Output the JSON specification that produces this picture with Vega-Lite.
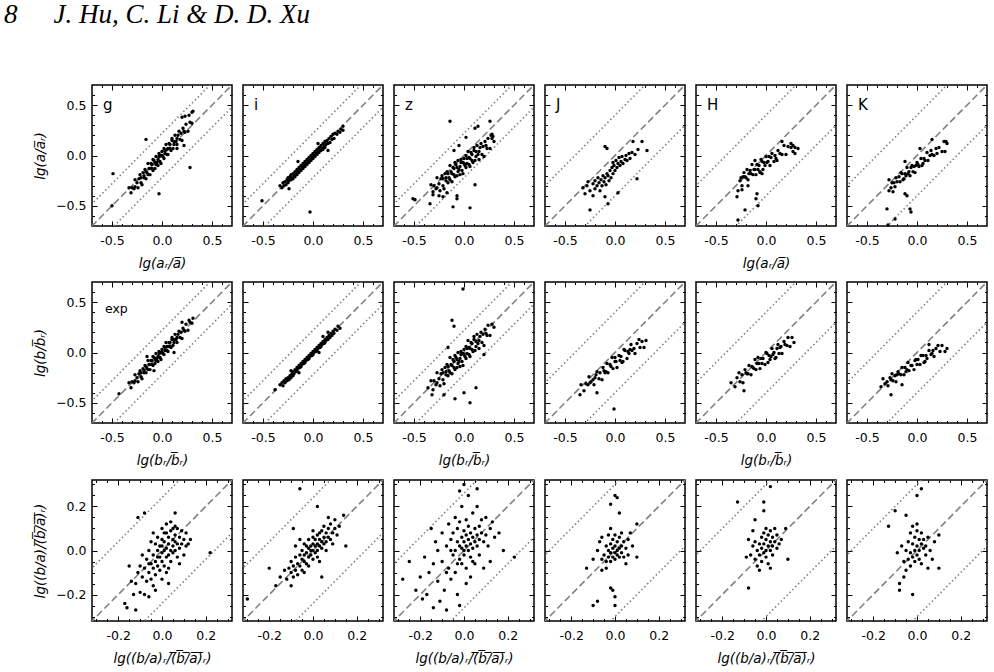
{
"$schema":"https://vega.github.io/schema/vega-lite/v6.json",
"padding":{"left":3,"top":0,"right":5,"bottom":0},
"background":"white",
"title":{"text":"8\u2003\u2004J. Hu, C. Li & D. D. Xu","anchor":"start","font":"Liberation Serif","fontStyle":"italic","fontWeight":"normal","fontSize":27,"color":"black","offset":55,"dx":-29},
"config":{
"view":{"stroke":"black","strokeWidth":1.5},
"axis":{"domain":false,"grid":false,"tickSize":-5,"tickColor":"black","tickWidth":1,"labelFont":"DejaVu Sans","labelFontSize":12.5,"labelColor":"black","labelPadding":11,"labelOverlap":false,"labelFlush":false,"titleFont":"DejaVu Sans","titleFontStyle":"italic","titleFontWeight":"normal","titleFontSize":13.5,"titleColor":"black","titlePadding":8},
"axisX":{"labelPadding":13,"titlePadding":10}
},
"datasets":{
"LA":[{"x":-1,"y":-1,"x2":1,"y2":1,"k":"d"},{"x":-1,"y":-0.78,"x2":1,"y2":1.22,"k":"o"},{"x":-1,"y":-1.22,"x2":1,"y2":0.78,"k":"o"}],
"LB":[{"x":-1,"y":-1,"x2":1,"y2":1,"k":"d"},{"x":-1,"y":-0.6,"x2":1,"y2":1.4,"k":"o"},{"x":-1,"y":-1.4,"x2":1,"y2":0.6,"k":"o"}],
"QA":[{"x":-0.5,"y":-0.5,"x2":0.5,"y2":0.5,"k":"d"},{"x":-0.5,"y":-0.26,"x2":0.5,"y2":0.74,"k":"o"},{"x":-0.5,"y":-0.74,"x2":0.5,"y2":0.26,"k":"o"}],
"QB":[{"x":-0.5,"y":-0.5,"x2":0.5,"y2":0.5,"k":"d"},{"x":-0.5,"y":-0.24,"x2":0.5,"y2":0.76,"k":"o"},{"x":-0.5,"y":-0.76,"x2":0.5,"y2":0.24,"k":"o"}],
"QC":[{"x":-0.5,"y":-0.5,"x2":0.5,"y2":0.5,"k":"d"},{"x":-0.5,"y":-0.2,"x2":0.5,"y2":0.8,"k":"o"},{"x":-0.5,"y":-0.8,"x2":0.5,"y2":0.2,"k":"o"}],
"a_g":[{"x":-0.33,"y":-0.32},{"x":-0.31,"y":-0.37},{"x":-0.3,"y":-0.32},{"x":-0.28,"y":-0.33},{"x":-0.27,"y":-0.24},{"x":-0.27,"y":-0.31},{"x":-0.25,"y":-0.27},{"x":-0.24,"y":-0.32},{"x":-0.23,"y":-0.23},{"x":-0.22,"y":-0.19},{"x":-0.21,"y":-0.27},{"x":-0.21,"y":-0.22},{"x":-0.2,"y":-0.29},{"x":-0.19,"y":-0.17},{"x":-0.18,"y":-0.2},{"x":-0.18,"y":-0.22},{"x":-0.17,"y":-0.14},{"x":-0.16,"y":-0.23},{"x":-0.16,"y":-0.16},{"x":-0.15,"y":-0.17},{"x":-0.14,"y":-0.08},{"x":-0.14,"y":-0.19},{"x":-0.13,"y":-0.13},{"x":-0.12,"y":-0.13},{"x":-0.12,"y":-0.19},{"x":-0.11,"y":-0.08},{"x":-0.1,"y":-0.13},{"x":-0.1,"y":-0.09},{"x":-0.09,"y":-0.15},{"x":-0.09,"y":-0.04},{"x":-0.08,"y":-0.05},{"x":-0.07,"y":-0.13},{"x":-0.07,"y":-0.07},{"x":-0.06,"y":-0.09},{"x":-0.06,"y":-0.01},{"x":-0.05,"y":-0.07},{"x":-0.04,"y":-0.04},{"x":-0.04,"y":-0.1},{"x":-0.03,"y":-0.01},{"x":-0.03,"y":0.02},{"x":-0.02,"y":-0.06},{"x":-0.01,"y":0.0},{"x":-0.01,"y":-0.08},{"x":0.0,"y":0.04},{"x":0.0,"y":0.0},{"x":0.01,"y":-0.01},{"x":0.02,"y":0.07},{"x":0.02,"y":-0.03},{"x":0.03,"y":0.05},{"x":0.03,"y":0.02},{"x":0.04,"y":0.11},{"x":0.05,"y":0.01},{"x":0.05,"y":0.06},{"x":0.06,"y":0.07},{"x":0.06,"y":0.01},{"x":0.07,"y":0.12},{"x":0.08,"y":0.07},{"x":0.08,"y":0.11},{"x":0.09,"y":0.05},{"x":0.1,"y":0.17},{"x":0.1,"y":0.15},{"x":0.11,"y":0.07},{"x":0.12,"y":0.14},{"x":0.12,"y":0.11},{"x":0.13,"y":0.2},{"x":0.14,"y":0.14},{"x":0.15,"y":0.17},{"x":0.15,"y":0.11},{"x":0.16,"y":0.2},{"x":0.17,"y":0.24},{"x":0.18,"y":0.16},{"x":0.19,"y":0.22},{"x":0.2,"y":0.15},{"x":0.21,"y":0.27},{"x":0.22,"y":0.24},{"x":0.23,"y":0.23},{"x":0.24,"y":0.31},{"x":0.26,"y":0.24},{"x":0.28,"y":0.33},{"x":0.3,"y":0.32},{"x":0.2,"y":0.38},{"x":0.23,"y":0.39},{"x":0.27,"y":0.4},{"x":0.3,"y":0.43},{"x":0.31,"y":0.44},{"x":-0.49,"y":-0.18},{"x":-0.5,"y":-0.5},{"x":-0.03,"y":-0.38},{"x":0.28,"y":-0.12},{"x":-0.16,"y":0.16},{"x":0.15,"y":0.07},{"x":0.22,"y":0.1}],
"a_i":[{"x":-0.51,"y":-0.45},{"x":-0.03,"y":-0.56},{"x":-0.33,"y":-0.3},{"x":-0.31,"y":-0.32},{"x":-0.3,"y":-0.27},{"x":-0.29,"y":-0.3},{"x":-0.28,"y":-0.26},{"x":-0.27,"y":-0.29},{"x":-0.26,"y":-0.24},{"x":-0.25,"y":-0.27},{"x":-0.25,"y":-0.22},{"x":-0.24,"y":-0.25},{"x":-0.23,"y":-0.21},{"x":-0.22,"y":-0.24},{"x":-0.22,"y":-0.19},{"x":-0.21,"y":-0.22},{"x":-0.2,"y":-0.18},{"x":-0.2,"y":-0.23},{"x":-0.19,"y":-0.2},{"x":-0.18,"y":-0.16},{"x":-0.18,"y":-0.21},{"x":-0.17,"y":-0.18},{"x":-0.16,"y":-0.14},{"x":-0.16,"y":-0.19},{"x":-0.15,"y":-0.16},{"x":-0.14,"y":-0.12},{"x":-0.14,"y":-0.17},{"x":-0.13,"y":-0.14},{"x":-0.12,"y":-0.1},{"x":-0.12,"y":-0.15},{"x":-0.11,"y":-0.12},{"x":-0.1,"y":-0.08},{"x":-0.1,"y":-0.13},{"x":-0.09,"y":-0.1},{"x":-0.08,"y":-0.06},{"x":-0.08,"y":-0.11},{"x":-0.07,"y":-0.08},{"x":-0.06,"y":-0.04},{"x":-0.06,"y":-0.09},{"x":-0.05,"y":-0.06},{"x":-0.04,"y":-0.02},{"x":-0.04,"y":-0.07},{"x":-0.03,"y":-0.04},{"x":-0.02,"y":0.0},{"x":-0.02,"y":-0.05},{"x":-0.01,"y":-0.02},{"x":0.0,"y":0.02},{"x":0.0,"y":-0.03},{"x":0.01,"y":0.0},{"x":0.02,"y":0.04},{"x":0.02,"y":-0.01},{"x":0.03,"y":0.02},{"x":0.04,"y":0.06},{"x":0.04,"y":0.01},{"x":0.05,"y":0.03},{"x":0.06,"y":0.08},{"x":0.06,"y":0.03},{"x":0.07,"y":0.05},{"x":0.08,"y":0.1},{"x":0.08,"y":0.05},{"x":0.09,"y":0.07},{"x":0.1,"y":0.12},{"x":0.1,"y":0.06},{"x":0.11,"y":0.09},{"x":0.12,"y":0.14},{"x":0.12,"y":0.08},{"x":0.13,"y":0.11},{"x":0.14,"y":0.15},{"x":0.15,"y":0.12},{"x":0.16,"y":0.17},{"x":0.17,"y":0.13},{"x":0.18,"y":0.19},{"x":0.19,"y":0.16},{"x":0.2,"y":0.21},{"x":0.21,"y":0.17},{"x":0.22,"y":0.22},{"x":0.24,"y":0.21},{"x":0.25,"y":0.24},{"x":0.27,"y":0.23},{"x":0.28,"y":0.26},{"x":0.3,"y":0.25},{"x":0.3,"y":0.29},{"x":-0.15,"y":-0.06},{"x":0.05,"y":0.12},{"x":0.15,"y":0.05},{"x":-0.24,"y":-0.33}],
"a_z":[{"x":-0.33,"y":-0.29},{"x":-0.31,"y":-0.39},{"x":-0.3,"y":-0.3},{"x":-0.28,"y":-0.33},{"x":-0.27,"y":-0.22},{"x":-0.27,"y":-0.32},{"x":-0.25,"y":-0.28},{"x":-0.24,"y":-0.35},{"x":-0.23,"y":-0.23},{"x":-0.22,"y":-0.2},{"x":-0.21,"y":-0.3},{"x":-0.21,"y":-0.23},{"x":-0.2,"y":-0.33},{"x":-0.19,"y":-0.18},{"x":-0.18,"y":-0.22},{"x":-0.18,"y":-0.25},{"x":-0.17,"y":-0.16},{"x":-0.16,"y":-0.27},{"x":-0.16,"y":-0.18},{"x":-0.15,"y":-0.22},{"x":-0.14,"y":-0.1},{"x":-0.14,"y":-0.24},{"x":-0.13,"y":-0.16},{"x":-0.12,"y":-0.18},{"x":-0.12,"y":-0.26},{"x":-0.11,"y":-0.12},{"x":-0.1,"y":-0.19},{"x":-0.1,"y":-0.13},{"x":-0.09,"y":-0.21},{"x":-0.09,"y":-0.07},{"x":-0.08,"y":-0.09},{"x":-0.07,"y":-0.2},{"x":-0.07,"y":-0.12},{"x":-0.06,"y":-0.16},{"x":-0.06,"y":-0.05},{"x":-0.05,"y":-0.14},{"x":-0.04,"y":-0.11},{"x":-0.04,"y":-0.19},{"x":-0.03,"y":-0.07},{"x":-0.03,"y":-0.04},{"x":-0.02,"y":-0.15},{"x":-0.01,"y":-0.07},{"x":-0.01,"y":-0.18},{"x":0.0,"y":-0.03},{"x":0.0,"y":-0.08},{"x":0.01,"y":-0.1},{"x":0.02,"y":0.0},{"x":0.02,"y":-0.12},{"x":0.03,"y":-0.03},{"x":0.03,"y":-0.08},{"x":0.04,"y":0.04},{"x":0.05,"y":-0.09},{"x":0.05,"y":-0.02},{"x":0.06,"y":-0.03},{"x":0.06,"y":-0.11},{"x":0.07,"y":0.03},{"x":0.08,"y":-0.05},{"x":0.08,"y":0.01},{"x":0.09,"y":-0.07},{"x":0.1,"y":0.08},{"x":0.1,"y":0.05},{"x":0.11,"y":-0.05},{"x":0.12,"y":0.04},{"x":0.12,"y":-0.01},{"x":0.13,"y":0.1},{"x":0.14,"y":0.01},{"x":0.15,"y":0.04},{"x":0.15,"y":-0.04},{"x":0.16,"y":0.08},{"x":0.17,"y":0.12},{"x":0.18,"y":0.01},{"x":0.19,"y":0.09},{"x":0.2,"y":-0.01},{"x":0.21,"y":0.14},{"x":0.22,"y":0.1},{"x":0.23,"y":0.07},{"x":0.24,"y":0.17},{"x":0.26,"y":0.07},{"x":0.28,"y":0.17},{"x":0.3,"y":0.14},{"x":-0.51,"y":-0.43},{"x":-0.49,"y":-0.44},{"x":-0.34,"y":-0.48},{"x":-0.21,"y":-0.41},{"x":-0.11,"y":-0.51},{"x":0.06,"y":-0.52},{"x":-0.07,"y":-0.43},{"x":-0.07,"y":-0.4},{"x":0.11,"y":-0.29},{"x":-0.31,"y":-0.36},{"x":-0.14,"y":0.34},{"x":0.14,"y":0.29},{"x":0.11,"y":0.27},{"x":0.26,"y":0.34},{"x":-0.05,"y":0.1},{"x":-0.1,"y":0.05},{"x":0.02,"y":0.18},{"x":-0.25,"y":-0.4},{"x":-0.17,"y":-0.37},{"x":0.27,"y":0.2},{"x":0.29,"y":0.19},{"x":0.28,"y":0.21}],
"a_J":[{"x":-0.32,"y":-0.32},{"x":-0.3,"y":-0.38},{"x":-0.28,"y":-0.3},{"x":-0.27,"y":-0.26},{"x":-0.25,"y":-0.35},{"x":-0.25,"y":-0.54},{"x":-0.22,"y":-0.4},{"x":-0.22,"y":-0.28},{"x":-0.2,"y":-0.25},{"x":-0.2,"y":-0.33},{"x":-0.18,"y":-0.3},{"x":-0.17,"y":-0.22},{"x":-0.16,"y":-0.27},{"x":-0.15,"y":-0.35},{"x":-0.14,"y":-0.24},{"x":-0.13,"y":-0.3},{"x":-0.12,"y":-0.2},{"x":-0.11,"y":-0.26},{"x":-0.1,"y":0.09},{"x":-0.1,"y":-0.41},{"x":-0.1,"y":-0.22},{"x":-0.09,"y":-0.29},{"x":-0.08,"y":0.07},{"x":-0.08,"y":-0.18},{"x":-0.07,"y":-0.48},{"x":-0.07,"y":-0.2},{"x":-0.06,"y":-0.25},{"x":-0.05,"y":-0.15},{"x":-0.04,"y":-0.22},{"x":-0.03,"y":-0.12},{"x":-0.02,"y":-0.07},{"x":-0.02,"y":-0.18},{"x":-0.01,"y":-0.1},{"x":0.0,"y":-0.15},{"x":0.01,"y":-0.05},{"x":0.02,"y":-0.12},{"x":0.03,"y":-0.37},{"x":0.03,"y":-0.08},{"x":0.04,"y":-0.02},{"x":0.05,"y":-0.1},{"x":0.06,"y":-0.06},{"x":0.07,"y":-0.01},{"x":0.08,"y":-0.08},{"x":0.1,"y":-0.04},{"x":0.11,"y":0.0},{"x":0.12,"y":-0.05},{"x":0.14,"y":0.02},{"x":0.15,"y":-0.03},{"x":0.17,"y":0.03},{"x":0.18,"y":0.14},{"x":0.2,"y":0.01},{"x":0.22,"y":-0.23},{"x":0.23,"y":0.06},{"x":0.27,"y":0.14},{"x":0.32,"y":0.05}],
"a_H":[{"x":-0.25,"y":-0.22},{"x":-0.24,"y":-0.3},{"x":-0.22,"y":-0.17},{"x":-0.21,"y":-0.21},{"x":-0.2,"y":-0.22},{"x":-0.19,"y":-0.14},{"x":-0.18,"y":-0.24},{"x":-0.16,"y":-0.15},{"x":-0.15,"y":-0.18},{"x":-0.14,"y":-0.09},{"x":-0.13,"y":-0.19},{"x":-0.12,"y":-0.14},{"x":-0.11,"y":-0.14},{"x":-0.1,"y":-0.19},{"x":-0.09,"y":-0.09},{"x":-0.08,"y":-0.14},{"x":-0.07,"y":-0.1},{"x":-0.06,"y":-0.16},{"x":-0.05,"y":-0.04},{"x":-0.04,"y":-0.06},{"x":-0.03,"y":-0.14},{"x":-0.02,"y":-0.07},{"x":-0.01,"y":-0.1},{"x":0.0,"y":-0.01},{"x":0.01,"y":-0.07},{"x":0.02,"y":-0.06},{"x":0.04,"y":-0.1},{"x":0.05,"y":-0.02},{"x":0.06,"y":0.02},{"x":0.08,"y":-0.06},{"x":0.09,"y":0.0},{"x":0.11,"y":-0.05},{"x":0.12,"y":0.05},{"x":0.14,"y":0.02},{"x":0.16,"y":0.01},{"x":0.18,"y":0.1},{"x":0.2,"y":0.01},{"x":0.22,"y":0.09},{"x":0.25,"y":0.08},{"x":0.27,"y":0.1},{"x":0.29,"y":0.08},{"x":0.32,"y":0.07},{"x":-0.17,"y":-0.18},{"x":-0.06,"y":-0.17},{"x":0.03,"y":-0.01},{"x":0.1,"y":-0.03},{"x":0.16,"y":0.14},{"x":0.27,"y":0.04},{"x":0.25,"y":0.12},{"x":0.29,"y":0.02},{"x":-0.11,"y":-0.05},{"x":-0.23,"y":-0.21},{"x":-0.29,"y":-0.41},{"x":-0.28,"y":-0.35},{"x":-0.21,"y":-0.54},{"x":-0.28,"y":-0.64},{"x":-0.09,"y":-0.38},{"x":-0.08,"y":-0.5},{"x":-0.1,"y":-0.43},{"x":-0.26,"y":-0.25},{"x":-0.24,"y":-0.34},{"x":-0.18,"y":-0.3},{"x":-0.04,"y":-0.18}],
"a_K":[{"x":-0.28,"y":-0.24},{"x":-0.26,"y":-0.32},{"x":-0.25,"y":-0.27},{"x":-0.23,"y":-0.27},{"x":-0.22,"y":-0.31},{"x":-0.21,"y":-0.22},{"x":-0.2,"y":-0.26},{"x":-0.18,"y":-0.21},{"x":-0.17,"y":-0.26},{"x":-0.16,"y":-0.17},{"x":-0.15,"y":-0.18},{"x":-0.14,"y":-0.24},{"x":-0.12,"y":-0.18},{"x":-0.11,"y":-0.2},{"x":-0.1,"y":-0.12},{"x":-0.09,"y":-0.18},{"x":-0.08,"y":-0.16},{"x":-0.07,"y":-0.2},{"x":-0.06,"y":-0.12},{"x":-0.05,"y":-0.1},{"x":-0.04,"y":-0.16},{"x":-0.03,"y":-0.11},{"x":-0.02,"y":-0.17},{"x":0.0,"y":-0.07},{"x":0.01,"y":-0.09},{"x":0.02,"y":-0.11},{"x":0.04,"y":-0.03},{"x":0.05,"y":-0.1},{"x":0.07,"y":-0.03},{"x":0.08,"y":-0.05},{"x":0.1,"y":0.03},{"x":0.11,"y":-0.05},{"x":0.13,"y":0.0},{"x":0.15,"y":0.01},{"x":0.17,"y":0.0},{"x":0.19,"y":0.07},{"x":0.2,"y":0.02},{"x":0.22,"y":0.08},{"x":0.25,"y":0.04},{"x":0.27,"y":0.14},{"x":0.29,"y":0.14},{"x":-0.13,"y":-0.23},{"x":-0.01,"y":-0.1},{"x":0.06,"y":-0.08},{"x":0.14,"y":0.05},{"x":0.15,"y":0.16},{"x":0.3,"y":0.12},{"x":0.28,"y":0.04},{"x":-0.12,"y":-0.06},{"x":-0.3,"y":-0.53},{"x":-0.22,"y":-0.63},{"x":-0.29,"y":-0.69},{"x":-0.07,"y":-0.53},{"x":-0.06,"y":-0.56},{"x":-0.1,"y":-0.4},{"x":-0.12,"y":-0.38},{"x":-0.28,"y":-0.35},{"x":-0.24,"y":-0.36},{"x":0.03,"y":0.07}],
"b_g":[{"x":-0.33,"y":-0.3},{"x":-0.31,"y":-0.35},{"x":-0.3,"y":-0.29},{"x":-0.28,"y":-0.3},{"x":-0.27,"y":-0.22},{"x":-0.27,"y":-0.28},{"x":-0.25,"y":-0.25},{"x":-0.24,"y":-0.29},{"x":-0.23,"y":-0.21},{"x":-0.22,"y":-0.18},{"x":-0.21,"y":-0.24},{"x":-0.21,"y":-0.2},{"x":-0.2,"y":-0.26},{"x":-0.19,"y":-0.16},{"x":-0.18,"y":-0.18},{"x":-0.18,"y":-0.2},{"x":-0.17,"y":-0.13},{"x":-0.16,"y":-0.2},{"x":-0.16,"y":-0.14},{"x":-0.15,"y":-0.16},{"x":-0.14,"y":-0.08},{"x":-0.14,"y":-0.17},{"x":-0.13,"y":-0.12},{"x":-0.12,"y":-0.12},{"x":-0.12,"y":-0.17},{"x":-0.11,"y":-0.08},{"x":-0.1,"y":-0.12},{"x":-0.1,"y":-0.08},{"x":-0.09,"y":-0.13},{"x":-0.09,"y":-0.04},{"x":-0.08,"y":-0.05},{"x":-0.07,"y":-0.11},{"x":-0.07,"y":-0.06},{"x":-0.06,"y":-0.08},{"x":-0.06,"y":-0.01},{"x":-0.05,"y":-0.06},{"x":-0.04,"y":-0.04},{"x":-0.04,"y":-0.09},{"x":-0.03,"y":-0.01},{"x":-0.03,"y":0.01},{"x":-0.02,"y":-0.05},{"x":-0.01,"y":0.0},{"x":-0.01,"y":-0.07},{"x":0.0,"y":0.03},{"x":0.0,"y":0.0},{"x":0.01,"y":-0.01},{"x":0.02,"y":0.06},{"x":0.02,"y":-0.02},{"x":0.03,"y":0.05},{"x":0.03,"y":0.02},{"x":0.04,"y":0.1},{"x":0.05,"y":0.02},{"x":0.05,"y":0.06},{"x":0.06,"y":0.06},{"x":0.06,"y":0.01},{"x":0.07,"y":0.1},{"x":0.08,"y":0.06},{"x":0.08,"y":0.1},{"x":0.09,"y":0.05},{"x":0.1,"y":0.15},{"x":0.1,"y":0.13},{"x":0.11,"y":0.07},{"x":0.12,"y":0.13},{"x":0.12,"y":0.1},{"x":0.13,"y":0.18},{"x":0.14,"y":0.13},{"x":0.15,"y":0.15},{"x":0.15,"y":0.1},{"x":0.16,"y":0.18},{"x":0.17,"y":0.21},{"x":0.18,"y":0.15},{"x":0.19,"y":0.2},{"x":0.2,"y":0.14},{"x":0.21,"y":0.24},{"x":0.22,"y":0.22},{"x":0.23,"y":0.21},{"x":0.24,"y":0.28},{"x":0.26,"y":0.22},{"x":0.28,"y":0.3},{"x":0.3,"y":0.29},{"x":-0.43,"y":-0.41},{"x":0.31,"y":0.34},{"x":0.27,"y":0.32},{"x":-0.08,"y":-0.18},{"x":0.12,"y":0.0},{"x":-0.15,"y":-0.04},{"x":0.2,"y":0.3}],
"b_i":[{"x":-0.38,"y":-0.37},{"x":-0.33,"y":-0.32},{"x":-0.31,"y":-0.3},{"x":-0.3,"y":-0.33},{"x":-0.29,"y":-0.28},{"x":-0.28,"y":-0.3},{"x":-0.27,"y":-0.26},{"x":-0.26,"y":-0.28},{"x":-0.25,"y":-0.25},{"x":-0.24,"y":-0.27},{"x":-0.23,"y":-0.23},{"x":-0.22,"y":-0.25},{"x":-0.21,"y":-0.21},{"x":-0.2,"y":-0.23},{"x":-0.2,"y":-0.19},{"x":-0.19,"y":-0.21},{"x":-0.18,"y":-0.17},{"x":-0.17,"y":-0.19},{"x":-0.16,"y":-0.15},{"x":-0.16,"y":-0.18},{"x":-0.15,"y":-0.16},{"x":-0.14,"y":-0.13},{"x":-0.13,"y":-0.15},{"x":-0.12,"y":-0.11},{"x":-0.12,"y":-0.14},{"x":-0.11,"y":-0.12},{"x":-0.1,"y":-0.09},{"x":-0.09,"y":-0.11},{"x":-0.08,"y":-0.07},{"x":-0.08,"y":-0.1},{"x":-0.07,"y":-0.08},{"x":-0.06,"y":-0.05},{"x":-0.05,"y":-0.07},{"x":-0.04,"y":-0.03},{"x":-0.04,"y":-0.06},{"x":-0.03,"y":-0.04},{"x":-0.02,"y":-0.01},{"x":-0.01,"y":-0.03},{"x":0.0,"y":0.01},{"x":0.0,"y":-0.02},{"x":0.01,"y":0.0},{"x":0.02,"y":0.03},{"x":0.03,"y":0.01},{"x":0.04,"y":0.05},{"x":0.04,"y":0.02},{"x":0.05,"y":0.04},{"x":0.06,"y":0.07},{"x":0.07,"y":0.05},{"x":0.08,"y":0.09},{"x":0.08,"y":0.06},{"x":0.09,"y":0.08},{"x":0.1,"y":0.11},{"x":0.11,"y":0.09},{"x":0.12,"y":0.13},{"x":0.12,"y":0.1},{"x":0.13,"y":0.12},{"x":0.14,"y":0.15},{"x":0.15,"y":0.13},{"x":0.16,"y":0.17},{"x":0.17,"y":0.15},{"x":0.18,"y":0.19},{"x":0.19,"y":0.17},{"x":0.2,"y":0.21},{"x":0.21,"y":0.19},{"x":0.22,"y":0.23},{"x":0.24,"y":0.22},{"x":0.25,"y":0.26},{"x":0.27,"y":0.24},{"x":-0.14,"y":-0.2},{"x":0.06,"y":0.0},{"x":0.1,"y":0.16},{"x":-0.22,"y":-0.18},{"x":0.15,"y":0.2}],
"b_z":[{"x":-0.33,"y":-0.28},{"x":-0.31,"y":-0.37},{"x":-0.3,"y":-0.28},{"x":-0.28,"y":-0.32},{"x":-0.27,"y":-0.2},{"x":-0.27,"y":-0.3},{"x":-0.25,"y":-0.26},{"x":-0.24,"y":-0.33},{"x":-0.23,"y":-0.21},{"x":-0.22,"y":-0.17},{"x":-0.21,"y":-0.27},{"x":-0.21,"y":-0.2},{"x":-0.2,"y":-0.31},{"x":-0.19,"y":-0.15},{"x":-0.18,"y":-0.19},{"x":-0.18,"y":-0.22},{"x":-0.17,"y":-0.12},{"x":-0.16,"y":-0.23},{"x":-0.16,"y":-0.14},{"x":-0.15,"y":-0.18},{"x":-0.14,"y":-0.05},{"x":-0.14,"y":-0.2},{"x":-0.13,"y":-0.12},{"x":-0.12,"y":-0.13},{"x":-0.12,"y":-0.21},{"x":-0.11,"y":-0.07},{"x":-0.1,"y":-0.15},{"x":-0.1,"y":-0.09},{"x":-0.09,"y":-0.17},{"x":-0.09,"y":-0.03},{"x":-0.08,"y":-0.05},{"x":-0.07,"y":-0.15},{"x":-0.07,"y":-0.07},{"x":-0.06,"y":-0.11},{"x":-0.06,"y":0.0},{"x":-0.05,"y":-0.09},{"x":-0.04,"y":-0.06},{"x":-0.04,"y":-0.14},{"x":-0.03,"y":-0.02},{"x":-0.03,"y":0.01},{"x":-0.02,"y":-0.09},{"x":-0.01,"y":-0.01},{"x":-0.01,"y":-0.13},{"x":0.0,"y":0.03},{"x":0.0,"y":-0.02},{"x":0.01,"y":-0.04},{"x":0.02,"y":0.06},{"x":0.02,"y":-0.06},{"x":0.03,"y":0.04},{"x":0.03,"y":-0.01},{"x":0.04,"y":0.12},{"x":0.05,"y":-0.02},{"x":0.05,"y":0.05},{"x":0.06,"y":0.04},{"x":0.06,"y":-0.04},{"x":0.07,"y":0.1},{"x":0.08,"y":0.03},{"x":0.08,"y":0.09},{"x":0.09,"y":0.01},{"x":0.1,"y":0.16},{"x":0.1,"y":0.13},{"x":0.11,"y":0.02},{"x":0.12,"y":0.11},{"x":0.12,"y":0.06},{"x":0.13,"y":0.18},{"x":0.14,"y":0.09},{"x":0.15,"y":0.12},{"x":0.15,"y":0.04},{"x":0.16,"y":0.16},{"x":0.17,"y":0.2},{"x":0.18,"y":0.1},{"x":0.19,"y":0.18},{"x":0.2,"y":0.07},{"x":0.21,"y":0.23},{"x":0.22,"y":0.19},{"x":0.23,"y":0.17},{"x":0.24,"y":0.27},{"x":0.26,"y":0.17},{"x":0.28,"y":0.28},{"x":0.3,"y":0.25},{"x":-0.01,"y":0.63},{"x":-0.12,"y":0.32},{"x":-0.1,"y":0.26},{"x":-0.16,"y":0.05},{"x":-0.09,"y":-0.46},{"x":0.0,"y":-0.4},{"x":0.06,"y":-0.5},{"x":0.12,"y":-0.35},{"x":-0.2,"y":-0.42},{"x":0.2,"y":-0.02},{"x":-0.36,"y":-0.35},{"x":-0.32,"y":-0.42}],
"b_J":[{"x":-0.34,"y":-0.32},{"x":-0.31,"y":-0.38},{"x":-0.29,"y":-0.31},{"x":-0.27,"y":-0.32},{"x":-0.26,"y":-0.24},{"x":-0.24,"y":-0.29},{"x":-0.22,"y":-0.27},{"x":-0.21,"y":-0.32},{"x":-0.19,"y":-0.22},{"x":-0.18,"y":-0.19},{"x":-0.16,"y":-0.26},{"x":-0.15,"y":-0.2},{"x":-0.13,"y":-0.27},{"x":-0.12,"y":-0.15},{"x":-0.11,"y":-0.18},{"x":-0.09,"y":-0.19},{"x":-0.08,"y":-0.11},{"x":-0.07,"y":-0.2},{"x":-0.05,"y":-0.12},{"x":-0.04,"y":-0.14},{"x":-0.03,"y":-0.05},{"x":-0.02,"y":-0.16},{"x":0.0,"y":-0.09},{"x":0.01,"y":-0.09},{"x":0.02,"y":-0.15},{"x":0.04,"y":-0.03},{"x":0.05,"y":-0.08},{"x":0.06,"y":-0.04},{"x":0.08,"y":-0.09},{"x":0.09,"y":0.03},{"x":0.1,"y":0.02},{"x":0.12,"y":-0.06},{"x":0.13,"y":0.01},{"x":0.14,"y":-0.01},{"x":0.16,"y":0.08},{"x":0.17,"y":0.02},{"x":0.19,"y":0.04},{"x":0.2,"y":-0.01},{"x":0.22,"y":0.09},{"x":0.24,"y":0.13},{"x":0.25,"y":0.05},{"x":0.27,"y":0.11},{"x":0.29,"y":0.05},{"x":0.31,"y":0.12},{"x":-0.2,"y":-0.25},{"x":-0.1,"y":-0.2},{"x":0.0,"y":-0.05},{"x":0.07,"y":-0.1},{"x":0.15,"y":0.03},{"x":-0.25,"y":-0.3},{"x":-0.01,"y":-0.56},{"x":-0.35,"y":-0.42},{"x":-0.18,"y":-0.4}],
"b_H":[{"x":-0.31,"y":-0.34},{"x":-0.29,"y":-0.25},{"x":-0.27,"y":-0.2},{"x":-0.26,"y":-0.29},{"x":-0.24,"y":-0.22},{"x":-0.23,"y":-0.3},{"x":-0.21,"y":-0.17},{"x":-0.2,"y":-0.2},{"x":-0.18,"y":-0.21},{"x":-0.17,"y":-0.13},{"x":-0.15,"y":-0.22},{"x":-0.14,"y":-0.14},{"x":-0.12,"y":-0.16},{"x":-0.11,"y":-0.07},{"x":-0.1,"y":-0.17},{"x":-0.09,"y":-0.11},{"x":-0.07,"y":-0.11},{"x":-0.06,"y":-0.16},{"x":-0.05,"y":-0.06},{"x":-0.04,"y":-0.11},{"x":-0.03,"y":-0.06},{"x":-0.01,"y":-0.12},{"x":0.0,"y":0.0},{"x":0.01,"y":-0.01},{"x":0.02,"y":-0.1},{"x":0.03,"y":-0.03},{"x":0.05,"y":-0.04},{"x":0.06,"y":0.04},{"x":0.07,"y":-0.02},{"x":0.08,"y":0.0},{"x":0.1,"y":-0.05},{"x":0.11,"y":0.04},{"x":0.12,"y":0.08},{"x":0.13,"y":-0.01},{"x":0.15,"y":0.06},{"x":0.16,"y":-0.01},{"x":0.18,"y":0.11},{"x":0.19,"y":0.08},{"x":0.21,"y":0.07},{"x":0.22,"y":0.15},{"x":0.24,"y":0.06},{"x":0.26,"y":0.15},{"x":-0.19,"y":-0.21},{"x":-0.08,"y":-0.05},{"x":0.04,"y":-0.07},{"x":0.14,"y":0.05},{"x":-0.13,"y":-0.15},{"x":0.09,"y":-0.06},{"x":-0.22,"y":-0.38},{"x":-0.35,"y":-0.3},{"x":0.28,"y":0.1}],
"b_K":[{"x":-0.36,"y":-0.34},{"x":-0.34,"y":-0.26},{"x":-0.32,"y":-0.31},{"x":-0.3,"y":-0.29},{"x":-0.29,"y":-0.33},{"x":-0.27,"y":-0.25},{"x":-0.25,"y":-0.21},{"x":-0.24,"y":-0.28},{"x":-0.22,"y":-0.23},{"x":-0.21,"y":-0.29},{"x":-0.19,"y":-0.19},{"x":-0.18,"y":-0.21},{"x":-0.16,"y":-0.22},{"x":-0.15,"y":-0.15},{"x":-0.13,"y":-0.22},{"x":-0.12,"y":-0.15},{"x":-0.1,"y":-0.17},{"x":-0.09,"y":-0.1},{"x":-0.08,"y":-0.18},{"x":-0.06,"y":-0.13},{"x":-0.05,"y":-0.13},{"x":-0.03,"y":-0.17},{"x":-0.02,"y":-0.08},{"x":0.0,"y":-0.12},{"x":0.01,"y":-0.07},{"x":0.03,"y":-0.12},{"x":0.04,"y":-0.03},{"x":0.06,"y":-0.03},{"x":0.07,"y":-0.1},{"x":0.09,"y":-0.03},{"x":0.1,"y":-0.06},{"x":0.12,"y":0.02},{"x":0.14,"y":-0.02},{"x":0.15,"y":-0.01},{"x":0.17,"y":-0.04},{"x":0.19,"y":0.04},{"x":0.21,"y":0.07},{"x":0.23,"y":0.01},{"x":0.25,"y":0.07},{"x":0.28,"y":0.01},{"x":0.3,"y":0.04},{"x":-0.2,"y":-0.22},{"x":-0.11,"y":-0.19},{"x":-0.01,"y":-0.07},{"x":0.08,"y":-0.09},{"x":0.16,"y":0.02},{"x":-0.26,"y":-0.27},{"x":-0.26,"y":-0.42},{"x":-0.15,"y":-0.32},{"x":0.12,"y":0.08}],
"q_g":[{"x":-0.08,"y":0.17},{"x":-0.11,"y":0.15},{"x":0.06,"y":0.17},{"x":-0.15,"y":-0.07},{"x":-0.16,"y":-0.26},{"x":-0.17,"y":-0.24},{"x":-0.12,"y":-0.27},{"x":0.22,"y":-0.01},{"x":0.12,"y":0.03},{"x":-0.13,"y":-0.2},{"x":-0.1,"y":-0.19},{"x":-0.14,"y":-0.14},{"x":-0.09,"y":-0.12},{"x":-0.06,"y":-0.21},{"x":-0.03,"y":-0.18},{"x":0.03,"y":-0.15},{"x":-0.08,"y":-0.08},{"x":-0.07,"y":-0.04},{"x":-0.06,"y":-0.1},{"x":-0.06,"y":0.0},{"x":-0.05,"y":-0.06},{"x":-0.05,"y":-0.13},{"x":-0.04,"y":-0.02},{"x":-0.04,"y":-0.08},{"x":-0.03,"y":0.03},{"x":-0.03,"y":-0.05},{"x":-0.03,"y":-0.11},{"x":-0.02,"y":0.0},{"x":-0.02,"y":-0.07},{"x":-0.02,"y":0.06},{"x":-0.01,"y":-0.03},{"x":-0.01,"y":-0.09},{"x":-0.01,"y":0.02},{"x":0.0,"y":-0.05},{"x":0.0,"y":0.05},{"x":0.0,"y":-0.01},{"x":0.0,"y":0.1},{"x":0.01,"y":-0.07},{"x":0.01,"y":0.0},{"x":0.01,"y":0.04},{"x":0.02,"y":-0.03},{"x":0.02,"y":0.08},{"x":0.02,"y":0.01},{"x":0.02,"y":-0.1},{"x":0.03,"y":0.03},{"x":0.03,"y":-0.02},{"x":0.03,"y":0.06},{"x":0.04,"y":0.0},{"x":0.04,"y":0.09},{"x":0.04,"y":-0.05},{"x":0.05,"y":0.02},{"x":0.05,"y":0.05},{"x":0.05,"y":-0.01},{"x":0.06,"y":0.07},{"x":0.06,"y":0.0},{"x":0.06,"y":0.11},{"x":0.07,"y":0.03},{"x":0.07,"y":-0.03},{"x":0.08,"y":0.06},{"x":0.08,"y":0.01},{"x":0.09,"y":0.09},{"x":0.09,"y":0.03},{"x":0.1,"y":0.05},{"x":0.11,"y":0.02},{"x":0.11,"y":0.08},{"x":-0.09,"y":-0.02},{"x":-0.07,"y":-0.14},{"x":-0.04,"y":-0.16},{"x":0.0,"y":-0.13},{"x":0.04,"y":0.13},{"x":-0.05,"y":0.04},{"x":0.01,"y":0.08},{"x":-0.11,"y":-0.1},{"x":0.07,"y":0.1},{"x":0.1,"y":-0.02},{"x":-0.02,"y":-0.03},{"x":0.03,"y":-0.08},{"x":0.0,"y":0.02},{"x":-0.06,"y":-0.06},{"x":0.08,"y":-0.06},{"x":-0.1,"y":-0.07},{"x":0.05,"y":0.1},{"x":-0.12,"y":-0.15},{"x":-0.08,"y":-0.2},{"x":0.02,"y":0.12},{"x":-0.04,"y":0.08},{"x":0.06,"y":0.04},{"x":0.13,"y":0.05}],
"q_i":[{"x":-0.12,"y":-0.13},{"x":-0.11,"y":-0.08},{"x":-0.1,"y":-0.1},{"x":-0.1,"y":-0.05},{"x":-0.09,"y":-0.12},{"x":-0.09,"y":-0.07},{"x":-0.08,"y":-0.03},{"x":-0.08,"y":-0.09},{"x":-0.07,"y":-0.06},{"x":-0.07,"y":-0.11},{"x":-0.06,"y":-0.02},{"x":-0.06,"y":-0.07},{"x":-0.05,"y":-0.04},{"x":-0.05,"y":-0.09},{"x":-0.05,"y":0.0},{"x":-0.04,"y":-0.05},{"x":-0.04,"y":-0.02},{"x":-0.04,"y":0.03},{"x":-0.03,"y":-0.06},{"x":-0.03,"y":-0.01},{"x":-0.03,"y":0.02},{"x":-0.02,"y":-0.03},{"x":-0.02,"y":0.01},{"x":-0.02,"y":0.05},{"x":-0.02,"y":-0.07},{"x":-0.01,"y":-0.02},{"x":-0.01,"y":0.02},{"x":-0.01,"y":0.0},{"x":0.0,"y":-0.04},{"x":0.0,"y":0.03},{"x":0.0,"y":0.0},{"x":0.0,"y":0.06},{"x":0.01,"y":-0.01},{"x":0.01,"y":0.02},{"x":0.01,"y":0.05},{"x":0.02,"y":0.0},{"x":0.02,"y":0.03},{"x":0.02,"y":0.07},{"x":0.02,"y":-0.03},{"x":0.03,"y":0.02},{"x":0.03,"y":0.05},{"x":0.03,"y":0.08},{"x":0.04,"y":0.01},{"x":0.04,"y":0.04},{"x":0.04,"y":0.09},{"x":0.05,"y":0.03},{"x":0.05,"y":0.06},{"x":0.05,"y":0.11},{"x":0.06,"y":0.04},{"x":0.06,"y":0.08},{"x":0.07,"y":0.06},{"x":0.07,"y":0.1},{"x":0.08,"y":0.05},{"x":0.08,"y":0.12},{"x":0.09,"y":0.08},{"x":0.1,"y":0.1},{"x":0.11,"y":0.07},{"x":0.12,"y":0.11},{"x":0.1,"y":0.14},{"x":-0.13,"y":-0.09},{"x":-0.15,"y":-0.12},{"x":-0.08,"y":0.02},{"x":0.0,"y":0.09},{"x":-0.04,"y":-0.1},{"x":0.06,"y":0.0},{"x":0.03,"y":-0.05},{"x":-0.06,"y":0.05},{"x":0.07,"y":0.15},{"x":-0.1,"y":-0.16},{"x":0.09,"y":0.03},{"x":-0.06,"y":0.28},{"x":-0.3,"y":-0.22},{"x":-0.2,"y":-0.08},{"x":0.14,"y":0.16},{"x":0.02,"y":0.2},{"x":-0.09,"y":0.1},{"x":0.15,"y":0.02},{"x":-0.17,"y":-0.16},{"x":0.04,"y":-0.12}],
"q_z":[{"x":-0.1,"y":-0.05},{"x":-0.08,"y":0.02},{"x":-0.07,"y":-0.08},{"x":-0.06,"y":0.05},{"x":-0.05,"y":-0.02},{"x":-0.05,"y":0.08},{"x":-0.04,"y":0.0},{"x":-0.04,"y":-0.1},{"x":-0.03,"y":0.04},{"x":-0.03,"y":0.1},{"x":-0.02,"y":-0.04},{"x":-0.02,"y":0.02},{"x":-0.02,"y":0.13},{"x":-0.01,"y":0.06},{"x":-0.01,"y":-0.06},{"x":0.0,"y":0.0},{"x":0.0,"y":0.04},{"x":0.0,"y":0.09},{"x":0.0,"y":-0.02},{"x":0.01,"y":0.02},{"x":0.01,"y":0.07},{"x":0.01,"y":-0.08},{"x":0.02,"y":0.05},{"x":0.02,"y":0.0},{"x":0.02,"y":0.11},{"x":0.03,"y":0.03},{"x":0.03,"y":-0.03},{"x":0.03,"y":0.08},{"x":0.04,"y":0.06},{"x":0.04,"y":0.01},{"x":0.05,"y":0.04},{"x":0.05,"y":0.1},{"x":0.06,"y":0.02},{"x":0.06,"y":0.07},{"x":0.07,"y":0.05},{"x":0.07,"y":-0.02},{"x":0.08,"y":0.08},{"x":0.09,"y":0.04},{"x":0.1,"y":0.07},{"x":0.11,"y":0.02},{"x":0.12,"y":0.1},{"x":0.14,"y":0.06},{"x":0.23,"y":-0.03},{"x":-0.12,"y":0.0},{"x":-0.14,"y":-0.06},{"x":-0.13,"y":0.04},{"x":-0.16,"y":-0.1},{"x":-0.18,"y":-0.03},{"x":-0.2,"y":-0.12},{"x":-0.22,"y":-0.18},{"x":-0.17,"y":-0.2},{"x":-0.12,"y":-0.14},{"x":-0.09,"y":-0.18},{"x":-0.06,"y":-0.13},{"x":-0.11,"y":-0.23},{"x":-0.08,"y":-0.27},{"x":-0.03,"y":-0.2},{"x":0.01,"y":-0.15},{"x":-0.02,"y":-0.25},{"x":0.03,"y":-0.12},{"x":0.05,"y":-0.06},{"x":0.08,"y":0.14},{"x":0.04,"y":0.17},{"x":-0.01,"y":0.2},{"x":-0.04,"y":0.15},{"x":0.02,"y":0.25},{"x":0.0,"y":0.3},{"x":-0.02,"y":0.27},{"x":0.06,"y":0.2},{"x":-0.07,"y":0.12},{"x":-0.1,"y":0.08},{"x":0.1,"y":0.15},{"x":0.13,"y":0.13},{"x":0.16,"y":0.08},{"x":0.18,"y":0.0},{"x":-0.25,"y":-0.05},{"x":-0.28,"y":-0.13},{"x":-0.15,"y":0.1},{"x":0.09,"y":-0.08},{"x":-0.06,"y":0.0},{"x":-0.01,"y":0.01},{"x":0.04,"y":-0.05},{"x":0.07,"y":0.11},{"x":-0.03,"y":-0.06},{"x":0.01,"y":0.14},{"x":-0.08,"y":-0.1},{"x":0.12,"y":-0.05},{"x":-0.19,"y":-0.22},{"x":-0.14,"y":-0.26},{"x":0.06,"y":0.28}],
"q_J":[{"x":0.0,"y":0.25},{"x":0.01,"y":0.24},{"x":-0.02,"y":0.21},{"x":0.02,"y":0.17},{"x":0.1,"y":0.12},{"x":0.1,"y":-0.03},{"x":-0.02,"y":-0.17},{"x":-0.01,"y":-0.18},{"x":0.0,"y":-0.21},{"x":0.0,"y":-0.25},{"x":-0.08,"y":-0.23},{"x":-0.1,"y":-0.25},{"x":-0.06,"y":-0.09},{"x":-0.1,"y":-0.04},{"x":-0.02,"y":0.1},{"x":-0.06,"y":0.06},{"x":-0.13,"y":-0.08},{"x":-0.05,"y":-0.02},{"x":-0.04,"y":0.02},{"x":-0.04,"y":-0.05},{"x":-0.03,"y":0.0},{"x":-0.03,"y":-0.03},{"x":-0.02,"y":0.03},{"x":-0.02,"y":-0.01},{"x":-0.02,"y":-0.05},{"x":-0.01,"y":0.01},{"x":-0.01,"y":-0.03},{"x":-0.01,"y":0.05},{"x":0.0,"y":-0.01},{"x":0.0,"y":0.02},{"x":0.0,"y":-0.04},{"x":0.01,"y":0.0},{"x":0.01,"y":0.04},{"x":0.01,"y":-0.02},{"x":0.02,"y":0.01},{"x":0.02,"y":-0.03},{"x":0.02,"y":0.06},{"x":0.03,"y":0.02},{"x":0.03,"y":-0.01},{"x":0.04,"y":0.04},{"x":0.04,"y":-0.03},{"x":0.05,"y":0.01},{"x":0.06,"y":0.05},{"x":0.06,"y":-0.02},{"x":0.08,"y":0.02},{"x":-0.07,"y":0.04},{"x":-0.06,"y":-0.04},{"x":0.03,"y":0.08},{"x":-0.03,"y":0.07},{"x":0.05,"y":-0.06},{"x":-0.04,"y":-0.08},{"x":0.0,"y":0.07},{"x":0.07,"y":0.08},{"x":-0.08,"y":0.0}],
"q_H":[{"x":0.02,"y":0.29},{"x":-0.13,"y":0.22},{"x":-0.01,"y":0.22},{"x":-0.01,"y":0.18},{"x":-0.05,"y":0.14},{"x":-0.08,"y":-0.17},{"x":0.1,"y":-0.04},{"x":0.09,"y":0.1},{"x":-0.07,"y":-0.02},{"x":-0.06,"y":0.02},{"x":-0.05,"y":-0.04},{"x":-0.05,"y":0.04},{"x":-0.04,"y":0.0},{"x":-0.04,"y":-0.07},{"x":-0.03,"y":0.03},{"x":-0.03,"y":-0.02},{"x":-0.02,"y":0.06},{"x":-0.02,"y":0.01},{"x":-0.02,"y":-0.05},{"x":-0.01,"y":0.03},{"x":-0.01,"y":-0.01},{"x":-0.01,"y":0.08},{"x":0.0,"y":0.0},{"x":0.0,"y":0.05},{"x":0.0,"y":-0.03},{"x":0.01,"y":0.02},{"x":0.01,"y":0.07},{"x":0.01,"y":-0.06},{"x":0.02,"y":0.04},{"x":0.02,"y":0.0},{"x":0.02,"y":0.09},{"x":0.03,"y":0.02},{"x":0.03,"y":0.06},{"x":0.03,"y":-0.02},{"x":0.04,"y":0.04},{"x":0.04,"y":0.1},{"x":0.05,"y":0.01},{"x":0.05,"y":0.07},{"x":0.06,"y":0.03},{"x":-0.09,"y":-0.03},{"x":-0.08,"y":0.05},{"x":0.07,"y":0.05},{"x":-0.03,"y":-0.09},{"x":0.02,"y":-0.08},{"x":-0.06,"y":0.09},{"x":0.0,"y":0.1}],
"q_K":[{"x":0.02,"y":0.28},{"x":0.0,"y":0.25},{"x":-0.1,"y":0.18},{"x":-0.05,"y":0.16},{"x":-0.13,"y":0.11},{"x":0.1,"y":0.07},{"x":0.1,"y":-0.08},{"x":-0.08,"y":-0.18},{"x":-0.02,"y":-0.2},{"x":-0.08,"y":-0.15},{"x":-0.09,"y":-0.01},{"x":-0.06,"y":-0.05},{"x":-0.05,"y":0.0},{"x":-0.05,"y":-0.09},{"x":-0.04,"y":0.04},{"x":-0.04,"y":-0.04},{"x":-0.03,"y":0.08},{"x":-0.03,"y":-0.01},{"x":-0.03,"y":-0.07},{"x":-0.02,"y":0.03},{"x":-0.02,"y":-0.03},{"x":-0.01,"y":0.06},{"x":-0.01,"y":0.0},{"x":-0.01,"y":-0.05},{"x":0.0,"y":0.02},{"x":0.0,"y":0.09},{"x":0.0,"y":-0.02},{"x":0.01,"y":0.05},{"x":0.01,"y":-0.04},{"x":0.01,"y":0.0},{"x":0.02,"y":0.03},{"x":0.02,"y":0.08},{"x":0.02,"y":-0.06},{"x":0.03,"y":0.01},{"x":0.03,"y":0.05},{"x":0.04,"y":-0.02},{"x":0.04,"y":0.02},{"x":0.05,"y":0.06},{"x":0.06,"y":0.0},{"x":0.07,"y":-0.04},{"x":-0.07,"y":0.02},{"x":-0.06,"y":-0.12},{"x":0.0,"y":0.12},{"x":0.05,"y":-0.08},{"x":-0.02,"y":0.11},{"x":0.08,"y":0.04}]
},
"vconcat":[
{"hconcat":[
{"width":140,"height":141,"layer":[
{"data":{"name":"LA"},"mark":{"type":"rule","clip":true,"color":"#808080","strokeWidth":1.6},"encoding":{"x":{"field":"x","type":"quantitative","scale":{"domain":[-0.7,0.7],"nice":false,"zero":false},"axis":{"orient":"bottom","title":"lg(a\u1d63/a\u0305)","values":[-0.6,-0.5,-0.4,-0.3,-0.2,-0.1,0,0.1,0.2,0.3,0.4,0.5,0.6],"labelExpr":"datum.value==0||abs(datum.value)==0.5 ? replace(format(datum.value,'.1f'),'\u2212','-') : ''","tickDash":{"condition":{"test":"datum.value==0||abs(datum.value)==0.5","value":[10,0]},"value":[2.5,20]}}},"y":{"field":"y","type":"quantitative","scale":{"domain":[-0.7,0.7],"nice":false,"zero":false},"axis":{"orient":"left","title":"lg(a/a\u0305\u1d63)","values":[-0.6,-0.5,-0.4,-0.3,-0.2,-0.1,0,0.1,0.2,0.3,0.4,0.5,0.6],"labelExpr":"datum.value==0||abs(datum.value)==0.5 ? format(datum.value,'.1f') : ''","tickDash":{"condition":{"test":"datum.value==0||abs(datum.value)==0.5","value":[10,0]},"value":[2.5,20]}}},"x2":{"field":"x2"},"y2":{"field":"y2"},"strokeDash":{"field":"k","type":"nominal","scale":{"domain":["d","o"],"range":[[7,3.5],[1.5,2.6]]},"legend":null}}},
{"data":{"name":"a_g"},"mark":{"type":"circle","size":12,"color":"black","opacity":1},"encoding":{"x":{"field":"x","type":"quantitative","scale":{"domain":[-0.7,0.7],"nice":false,"zero":false},"axis":{"orient":"top","labels":false,"title":null,"values":[-0.6,-0.5,-0.4,-0.3,-0.2,-0.1,0,0.1,0.2,0.3,0.4,0.5,0.6],"tickDash":{"condition":{"test":"datum.value==0||abs(datum.value)==0.5","value":[10,0]},"value":[2.5,20]}}},"y":{"field":"y","type":"quantitative","scale":{"domain":[-0.7,0.7],"nice":false,"zero":false},"axis":{"orient":"right","labels":false,"title":null,"values":[-0.6,-0.5,-0.4,-0.3,-0.2,-0.1,0,0.1,0.2,0.3,0.4,0.5,0.6],"tickDash":{"condition":{"test":"datum.value==0||abs(datum.value)==0.5","value":[10,0]},"value":[2.5,20]}}}}},
{"data":{"values":[{"x":-0.59,"y":0.5,"t":"g"}]},"mark":{"type":"text","font":"DejaVu Sans","fontSize":15,"align":"left","baseline":"middle","color":"black"},"encoding":{"x":{"field":"x","type":"quantitative","axis":null},"y":{"field":"y","type":"quantitative","axis":null},"text":{"field":"t"}}}
],"resolve":{"axis":{"x":"independent","y":"independent"}}},
{"width":140,"height":141,"layer":[
{"data":{"name":"LA"},"mark":{"type":"rule","clip":true,"color":"#808080","strokeWidth":1.6},"encoding":{"x":{"field":"x","type":"quantitative","scale":{"domain":[-0.7,0.7],"nice":false,"zero":false},"axis":{"orient":"bottom","title":null,"values":[-0.6,-0.5,-0.4,-0.3,-0.2,-0.1,0,0.1,0.2,0.3,0.4,0.5,0.6],"labelExpr":"datum.value==0||abs(datum.value)==0.5 ? replace(format(datum.value,'.1f'),'\u2212','-') : ''","tickDash":{"condition":{"test":"datum.value==0||abs(datum.value)==0.5","value":[10,0]},"value":[2.5,20]}}},"y":{"field":"y","type":"quantitative","scale":{"domain":[-0.7,0.7],"nice":false,"zero":false},"axis":{"orient":"left","labels":false,"title":null,"values":[-0.6,-0.5,-0.4,-0.3,-0.2,-0.1,0,0.1,0.2,0.3,0.4,0.5,0.6],"tickDash":{"condition":{"test":"datum.value==0||abs(datum.value)==0.5","value":[10,0]},"value":[2.5,20]}}},"x2":{"field":"x2"},"y2":{"field":"y2"},"strokeDash":{"field":"k","type":"nominal","scale":{"domain":["d","o"],"range":[[7,3.5],[1.5,2.6]]},"legend":null}}},
{"data":{"name":"a_i"},"mark":{"type":"circle","size":12,"color":"black","opacity":1},"encoding":{"x":{"field":"x","type":"quantitative","scale":{"domain":[-0.7,0.7],"nice":false,"zero":false},"axis":{"orient":"top","labels":false,"title":null,"values":[-0.6,-0.5,-0.4,-0.3,-0.2,-0.1,0,0.1,0.2,0.3,0.4,0.5,0.6],"tickDash":{"condition":{"test":"datum.value==0||abs(datum.value)==0.5","value":[10,0]},"value":[2.5,20]}}},"y":{"field":"y","type":"quantitative","scale":{"domain":[-0.7,0.7],"nice":false,"zero":false},"axis":{"orient":"right","labels":false,"title":null,"values":[-0.6,-0.5,-0.4,-0.3,-0.2,-0.1,0,0.1,0.2,0.3,0.4,0.5,0.6],"tickDash":{"condition":{"test":"datum.value==0||abs(datum.value)==0.5","value":[10,0]},"value":[2.5,20]}}}}},
{"data":{"values":[{"x":-0.59,"y":0.5,"t":"i"}]},"mark":{"type":"text","font":"DejaVu Sans","fontSize":15,"align":"left","baseline":"middle","color":"black"},"encoding":{"x":{"field":"x","type":"quantitative","axis":null},"y":{"field":"y","type":"quantitative","axis":null},"text":{"field":"t"}}}
],"resolve":{"axis":{"x":"independent","y":"independent"}}},
{"width":140,"height":141,"layer":[
{"data":{"name":"LA"},"mark":{"type":"rule","clip":true,"color":"#808080","strokeWidth":1.6},"encoding":{"x":{"field":"x","type":"quantitative","scale":{"domain":[-0.7,0.7],"nice":false,"zero":false},"axis":{"orient":"bottom","title":null,"values":[-0.6,-0.5,-0.4,-0.3,-0.2,-0.1,0,0.1,0.2,0.3,0.4,0.5,0.6],"labelExpr":"datum.value==0||abs(datum.value)==0.5 ? replace(format(datum.value,'.1f'),'\u2212','-') : ''","tickDash":{"condition":{"test":"datum.value==0||abs(datum.value)==0.5","value":[10,0]},"value":[2.5,20]}}},"y":{"field":"y","type":"quantitative","scale":{"domain":[-0.7,0.7],"nice":false,"zero":false},"axis":{"orient":"left","labels":false,"title":null,"values":[-0.6,-0.5,-0.4,-0.3,-0.2,-0.1,0,0.1,0.2,0.3,0.4,0.5,0.6],"tickDash":{"condition":{"test":"datum.value==0||abs(datum.value)==0.5","value":[10,0]},"value":[2.5,20]}}},"x2":{"field":"x2"},"y2":{"field":"y2"},"strokeDash":{"field":"k","type":"nominal","scale":{"domain":["d","o"],"range":[[7,3.5],[1.5,2.6]]},"legend":null}}},
{"data":{"name":"a_z"},"mark":{"type":"circle","size":12,"color":"black","opacity":1},"encoding":{"x":{"field":"x","type":"quantitative","scale":{"domain":[-0.7,0.7],"nice":false,"zero":false},"axis":{"orient":"top","labels":false,"title":null,"values":[-0.6,-0.5,-0.4,-0.3,-0.2,-0.1,0,0.1,0.2,0.3,0.4,0.5,0.6],"tickDash":{"condition":{"test":"datum.value==0||abs(datum.value)==0.5","value":[10,0]},"value":[2.5,20]}}},"y":{"field":"y","type":"quantitative","scale":{"domain":[-0.7,0.7],"nice":false,"zero":false},"axis":{"orient":"right","labels":false,"title":null,"values":[-0.6,-0.5,-0.4,-0.3,-0.2,-0.1,0,0.1,0.2,0.3,0.4,0.5,0.6],"tickDash":{"condition":{"test":"datum.value==0||abs(datum.value)==0.5","value":[10,0]},"value":[2.5,20]}}}}},
{"data":{"values":[{"x":-0.59,"y":0.5,"t":"z"}]},"mark":{"type":"text","font":"DejaVu Sans","fontSize":15,"align":"left","baseline":"middle","color":"black"},"encoding":{"x":{"field":"x","type":"quantitative","axis":null},"y":{"field":"y","type":"quantitative","axis":null},"text":{"field":"t"}}}
],"resolve":{"axis":{"x":"independent","y":"independent"}}},
{"width":140,"height":141,"layer":[
{"data":{"name":"LB"},"mark":{"type":"rule","clip":true,"color":"#808080","strokeWidth":1.6},"encoding":{"x":{"field":"x","type":"quantitative","scale":{"domain":[-0.7,0.7],"nice":false,"zero":false},"axis":{"orient":"bottom","title":null,"values":[-0.6,-0.5,-0.4,-0.3,-0.2,-0.1,0,0.1,0.2,0.3,0.4,0.5,0.6],"labelExpr":"datum.value==0||abs(datum.value)==0.5 ? replace(format(datum.value,'.1f'),'\u2212','-') : ''","tickDash":{"condition":{"test":"datum.value==0||abs(datum.value)==0.5","value":[10,0]},"value":[2.5,20]}}},"y":{"field":"y","type":"quantitative","scale":{"domain":[-0.7,0.7],"nice":false,"zero":false},"axis":{"orient":"left","labels":false,"title":null,"values":[-0.6,-0.5,-0.4,-0.3,-0.2,-0.1,0,0.1,0.2,0.3,0.4,0.5,0.6],"tickDash":{"condition":{"test":"datum.value==0||abs(datum.value)==0.5","value":[10,0]},"value":[2.5,20]}}},"x2":{"field":"x2"},"y2":{"field":"y2"},"strokeDash":{"field":"k","type":"nominal","scale":{"domain":["d","o"],"range":[[7,3.5],[1.5,2.6]]},"legend":null}}},
{"data":{"name":"a_J"},"mark":{"type":"circle","size":12,"color":"black","opacity":1},"encoding":{"x":{"field":"x","type":"quantitative","scale":{"domain":[-0.7,0.7],"nice":false,"zero":false},"axis":{"orient":"top","labels":false,"title":null,"values":[-0.6,-0.5,-0.4,-0.3,-0.2,-0.1,0,0.1,0.2,0.3,0.4,0.5,0.6],"tickDash":{"condition":{"test":"datum.value==0||abs(datum.value)==0.5","value":[10,0]},"value":[2.5,20]}}},"y":{"field":"y","type":"quantitative","scale":{"domain":[-0.7,0.7],"nice":false,"zero":false},"axis":{"orient":"right","labels":false,"title":null,"values":[-0.6,-0.5,-0.4,-0.3,-0.2,-0.1,0,0.1,0.2,0.3,0.4,0.5,0.6],"tickDash":{"condition":{"test":"datum.value==0||abs(datum.value)==0.5","value":[10,0]},"value":[2.5,20]}}}}},
{"data":{"values":[{"x":-0.59,"y":0.5,"t":"J"}]},"mark":{"type":"text","font":"DejaVu Sans","fontSize":15,"align":"left","baseline":"middle","color":"black"},"encoding":{"x":{"field":"x","type":"quantitative","axis":null},"y":{"field":"y","type":"quantitative","axis":null},"text":{"field":"t"}}}
],"resolve":{"axis":{"x":"independent","y":"independent"}}},
{"width":140,"height":141,"layer":[
{"data":{"name":"LB"},"mark":{"type":"rule","clip":true,"color":"#808080","strokeWidth":1.6},"encoding":{"x":{"field":"x","type":"quantitative","scale":{"domain":[-0.7,0.7],"nice":false,"zero":false},"axis":{"orient":"bottom","title":"lg(a\u1d63/a\u0305)","values":[-0.6,-0.5,-0.4,-0.3,-0.2,-0.1,0,0.1,0.2,0.3,0.4,0.5,0.6],"labelExpr":"datum.value==0||abs(datum.value)==0.5 ? replace(format(datum.value,'.1f'),'\u2212','-') : ''","tickDash":{"condition":{"test":"datum.value==0||abs(datum.value)==0.5","value":[10,0]},"value":[2.5,20]}}},"y":{"field":"y","type":"quantitative","scale":{"domain":[-0.7,0.7],"nice":false,"zero":false},"axis":{"orient":"left","labels":false,"title":null,"values":[-0.6,-0.5,-0.4,-0.3,-0.2,-0.1,0,0.1,0.2,0.3,0.4,0.5,0.6],"tickDash":{"condition":{"test":"datum.value==0||abs(datum.value)==0.5","value":[10,0]},"value":[2.5,20]}}},"x2":{"field":"x2"},"y2":{"field":"y2"},"strokeDash":{"field":"k","type":"nominal","scale":{"domain":["d","o"],"range":[[7,3.5],[1.5,2.6]]},"legend":null}}},
{"data":{"name":"a_H"},"mark":{"type":"circle","size":12,"color":"black","opacity":1},"encoding":{"x":{"field":"x","type":"quantitative","scale":{"domain":[-0.7,0.7],"nice":false,"zero":false},"axis":{"orient":"top","labels":false,"title":null,"values":[-0.6,-0.5,-0.4,-0.3,-0.2,-0.1,0,0.1,0.2,0.3,0.4,0.5,0.6],"tickDash":{"condition":{"test":"datum.value==0||abs(datum.value)==0.5","value":[10,0]},"value":[2.5,20]}}},"y":{"field":"y","type":"quantitative","scale":{"domain":[-0.7,0.7],"nice":false,"zero":false},"axis":{"orient":"right","labels":false,"title":null,"values":[-0.6,-0.5,-0.4,-0.3,-0.2,-0.1,0,0.1,0.2,0.3,0.4,0.5,0.6],"tickDash":{"condition":{"test":"datum.value==0||abs(datum.value)==0.5","value":[10,0]},"value":[2.5,20]}}}}},
{"data":{"values":[{"x":-0.59,"y":0.5,"t":"H"}]},"mark":{"type":"text","font":"DejaVu Sans","fontSize":15,"align":"left","baseline":"middle","color":"black"},"encoding":{"x":{"field":"x","type":"quantitative","axis":null},"y":{"field":"y","type":"quantitative","axis":null},"text":{"field":"t"}}}
],"resolve":{"axis":{"x":"independent","y":"independent"}}},
{"width":140,"height":141,"layer":[
{"data":{"name":"LB"},"mark":{"type":"rule","clip":true,"color":"#808080","strokeWidth":1.6},"encoding":{"x":{"field":"x","type":"quantitative","scale":{"domain":[-0.7,0.7],"nice":false,"zero":false},"axis":{"orient":"bottom","title":null,"values":[-0.6,-0.5,-0.4,-0.3,-0.2,-0.1,0,0.1,0.2,0.3,0.4,0.5,0.6],"labelExpr":"datum.value==0||abs(datum.value)==0.5 ? replace(format(datum.value,'.1f'),'\u2212','-') : ''","tickDash":{"condition":{"test":"datum.value==0||abs(datum.value)==0.5","value":[10,0]},"value":[2.5,20]}}},"y":{"field":"y","type":"quantitative","scale":{"domain":[-0.7,0.7],"nice":false,"zero":false},"axis":{"orient":"left","labels":false,"title":null,"values":[-0.6,-0.5,-0.4,-0.3,-0.2,-0.1,0,0.1,0.2,0.3,0.4,0.5,0.6],"tickDash":{"condition":{"test":"datum.value==0||abs(datum.value)==0.5","value":[10,0]},"value":[2.5,20]}}},"x2":{"field":"x2"},"y2":{"field":"y2"},"strokeDash":{"field":"k","type":"nominal","scale":{"domain":["d","o"],"range":[[7,3.5],[1.5,2.6]]},"legend":null}}},
{"data":{"name":"a_K"},"mark":{"type":"circle","size":12,"color":"black","opacity":1},"encoding":{"x":{"field":"x","type":"quantitative","scale":{"domain":[-0.7,0.7],"nice":false,"zero":false},"axis":{"orient":"top","labels":false,"title":null,"values":[-0.6,-0.5,-0.4,-0.3,-0.2,-0.1,0,0.1,0.2,0.3,0.4,0.5,0.6],"tickDash":{"condition":{"test":"datum.value==0||abs(datum.value)==0.5","value":[10,0]},"value":[2.5,20]}}},"y":{"field":"y","type":"quantitative","scale":{"domain":[-0.7,0.7],"nice":false,"zero":false},"axis":{"orient":"right","labels":false,"title":null,"values":[-0.6,-0.5,-0.4,-0.3,-0.2,-0.1,0,0.1,0.2,0.3,0.4,0.5,0.6],"tickDash":{"condition":{"test":"datum.value==0||abs(datum.value)==0.5","value":[10,0]},"value":[2.5,20]}}}}},
{"data":{"values":[{"x":-0.59,"y":0.5,"t":"K"}]},"mark":{"type":"text","font":"DejaVu Sans","fontSize":15,"align":"left","baseline":"middle","color":"black"},"encoding":{"x":{"field":"x","type":"quantitative","axis":null},"y":{"field":"y","type":"quantitative","axis":null},"text":{"field":"t"}}}
],"resolve":{"axis":{"x":"independent","y":"independent"}}}
],"spacing":7},
{"hconcat":[
{"width":140,"height":141,"layer":[
{"data":{"name":"LA"},"mark":{"type":"rule","clip":true,"color":"#808080","strokeWidth":1.6},"encoding":{"x":{"field":"x","type":"quantitative","scale":{"domain":[-0.7,0.7],"nice":false,"zero":false},"axis":{"orient":"bottom","title":"lg(b\u1d63/b\u0305\u1d63)","values":[-0.6,-0.5,-0.4,-0.3,-0.2,-0.1,0,0.1,0.2,0.3,0.4,0.5,0.6],"labelExpr":"datum.value==0||abs(datum.value)==0.5 ? replace(format(datum.value,'.1f'),'\u2212','-') : ''","tickDash":{"condition":{"test":"datum.value==0||abs(datum.value)==0.5","value":[10,0]},"value":[2.5,20]}}},"y":{"field":"y","type":"quantitative","scale":{"domain":[-0.7,0.7],"nice":false,"zero":false},"axis":{"orient":"left","title":"lg(b/b\u0305\u1d63)","values":[-0.6,-0.5,-0.4,-0.3,-0.2,-0.1,0,0.1,0.2,0.3,0.4,0.5,0.6],"labelExpr":"datum.value==0||abs(datum.value)==0.5 ? format(datum.value,'.1f') : ''","tickDash":{"condition":{"test":"datum.value==0||abs(datum.value)==0.5","value":[10,0]},"value":[2.5,20]}}},"x2":{"field":"x2"},"y2":{"field":"y2"},"strokeDash":{"field":"k","type":"nominal","scale":{"domain":["d","o"],"range":[[7,3.5],[1.5,2.6]]},"legend":null}}},
{"data":{"name":"b_g"},"mark":{"type":"circle","size":12,"color":"black","opacity":1},"encoding":{"x":{"field":"x","type":"quantitative","scale":{"domain":[-0.7,0.7],"nice":false,"zero":false},"axis":{"orient":"top","labels":false,"title":null,"values":[-0.6,-0.5,-0.4,-0.3,-0.2,-0.1,0,0.1,0.2,0.3,0.4,0.5,0.6],"tickDash":{"condition":{"test":"datum.value==0||abs(datum.value)==0.5","value":[10,0]},"value":[2.5,20]}}},"y":{"field":"y","type":"quantitative","scale":{"domain":[-0.7,0.7],"nice":false,"zero":false},"axis":{"orient":"right","labels":false,"title":null,"values":[-0.6,-0.5,-0.4,-0.3,-0.2,-0.1,0,0.1,0.2,0.3,0.4,0.5,0.6],"tickDash":{"condition":{"test":"datum.value==0||abs(datum.value)==0.5","value":[10,0]},"value":[2.5,20]}}}}},
{"data":{"values":[{"x":-0.57,"y":0.43,"t":"exp"}]},"mark":{"type":"text","font":"DejaVu Sans","fontSize":12.5,"align":"left","baseline":"middle","color":"black"},"encoding":{"x":{"field":"x","type":"quantitative","axis":null},"y":{"field":"y","type":"quantitative","axis":null},"text":{"field":"t"}}}
],"resolve":{"axis":{"x":"independent","y":"independent"}}},
{"width":140,"height":141,"layer":[
{"data":{"name":"LA"},"mark":{"type":"rule","clip":true,"color":"#808080","strokeWidth":1.6},"encoding":{"x":{"field":"x","type":"quantitative","scale":{"domain":[-0.7,0.7],"nice":false,"zero":false},"axis":{"orient":"bottom","title":null,"values":[-0.6,-0.5,-0.4,-0.3,-0.2,-0.1,0,0.1,0.2,0.3,0.4,0.5,0.6],"labelExpr":"datum.value==0||abs(datum.value)==0.5 ? replace(format(datum.value,'.1f'),'\u2212','-') : ''","tickDash":{"condition":{"test":"datum.value==0||abs(datum.value)==0.5","value":[10,0]},"value":[2.5,20]}}},"y":{"field":"y","type":"quantitative","scale":{"domain":[-0.7,0.7],"nice":false,"zero":false},"axis":{"orient":"left","labels":false,"title":null,"values":[-0.6,-0.5,-0.4,-0.3,-0.2,-0.1,0,0.1,0.2,0.3,0.4,0.5,0.6],"tickDash":{"condition":{"test":"datum.value==0||abs(datum.value)==0.5","value":[10,0]},"value":[2.5,20]}}},"x2":{"field":"x2"},"y2":{"field":"y2"},"strokeDash":{"field":"k","type":"nominal","scale":{"domain":["d","o"],"range":[[7,3.5],[1.5,2.6]]},"legend":null}}},
{"data":{"name":"b_i"},"mark":{"type":"circle","size":12,"color":"black","opacity":1},"encoding":{"x":{"field":"x","type":"quantitative","scale":{"domain":[-0.7,0.7],"nice":false,"zero":false},"axis":{"orient":"top","labels":false,"title":null,"values":[-0.6,-0.5,-0.4,-0.3,-0.2,-0.1,0,0.1,0.2,0.3,0.4,0.5,0.6],"tickDash":{"condition":{"test":"datum.value==0||abs(datum.value)==0.5","value":[10,0]},"value":[2.5,20]}}},"y":{"field":"y","type":"quantitative","scale":{"domain":[-0.7,0.7],"nice":false,"zero":false},"axis":{"orient":"right","labels":false,"title":null,"values":[-0.6,-0.5,-0.4,-0.3,-0.2,-0.1,0,0.1,0.2,0.3,0.4,0.5,0.6],"tickDash":{"condition":{"test":"datum.value==0||abs(datum.value)==0.5","value":[10,0]},"value":[2.5,20]}}}}}
],"resolve":{"axis":{"x":"independent","y":"independent"}}},
{"width":140,"height":141,"layer":[
{"data":{"name":"LA"},"mark":{"type":"rule","clip":true,"color":"#808080","strokeWidth":1.6},"encoding":{"x":{"field":"x","type":"quantitative","scale":{"domain":[-0.7,0.7],"nice":false,"zero":false},"axis":{"orient":"bottom","title":"lg(b\u1d63/b\u0305\u1d63)","values":[-0.6,-0.5,-0.4,-0.3,-0.2,-0.1,0,0.1,0.2,0.3,0.4,0.5,0.6],"labelExpr":"datum.value==0||abs(datum.value)==0.5 ? replace(format(datum.value,'.1f'),'\u2212','-') : ''","tickDash":{"condition":{"test":"datum.value==0||abs(datum.value)==0.5","value":[10,0]},"value":[2.5,20]}}},"y":{"field":"y","type":"quantitative","scale":{"domain":[-0.7,0.7],"nice":false,"zero":false},"axis":{"orient":"left","labels":false,"title":null,"values":[-0.6,-0.5,-0.4,-0.3,-0.2,-0.1,0,0.1,0.2,0.3,0.4,0.5,0.6],"tickDash":{"condition":{"test":"datum.value==0||abs(datum.value)==0.5","value":[10,0]},"value":[2.5,20]}}},"x2":{"field":"x2"},"y2":{"field":"y2"},"strokeDash":{"field":"k","type":"nominal","scale":{"domain":["d","o"],"range":[[7,3.5],[1.5,2.6]]},"legend":null}}},
{"data":{"name":"b_z"},"mark":{"type":"circle","size":12,"color":"black","opacity":1},"encoding":{"x":{"field":"x","type":"quantitative","scale":{"domain":[-0.7,0.7],"nice":false,"zero":false},"axis":{"orient":"top","labels":false,"title":null,"values":[-0.6,-0.5,-0.4,-0.3,-0.2,-0.1,0,0.1,0.2,0.3,0.4,0.5,0.6],"tickDash":{"condition":{"test":"datum.value==0||abs(datum.value)==0.5","value":[10,0]},"value":[2.5,20]}}},"y":{"field":"y","type":"quantitative","scale":{"domain":[-0.7,0.7],"nice":false,"zero":false},"axis":{"orient":"right","labels":false,"title":null,"values":[-0.6,-0.5,-0.4,-0.3,-0.2,-0.1,0,0.1,0.2,0.3,0.4,0.5,0.6],"tickDash":{"condition":{"test":"datum.value==0||abs(datum.value)==0.5","value":[10,0]},"value":[2.5,20]}}}}}
],"resolve":{"axis":{"x":"independent","y":"independent"}}},
{"width":140,"height":141,"layer":[
{"data":{"name":"LB"},"mark":{"type":"rule","clip":true,"color":"#808080","strokeWidth":1.6},"encoding":{"x":{"field":"x","type":"quantitative","scale":{"domain":[-0.7,0.7],"nice":false,"zero":false},"axis":{"orient":"bottom","title":null,"values":[-0.6,-0.5,-0.4,-0.3,-0.2,-0.1,0,0.1,0.2,0.3,0.4,0.5,0.6],"labelExpr":"datum.value==0||abs(datum.value)==0.5 ? replace(format(datum.value,'.1f'),'\u2212','-') : ''","tickDash":{"condition":{"test":"datum.value==0||abs(datum.value)==0.5","value":[10,0]},"value":[2.5,20]}}},"y":{"field":"y","type":"quantitative","scale":{"domain":[-0.7,0.7],"nice":false,"zero":false},"axis":{"orient":"left","labels":false,"title":null,"values":[-0.6,-0.5,-0.4,-0.3,-0.2,-0.1,0,0.1,0.2,0.3,0.4,0.5,0.6],"tickDash":{"condition":{"test":"datum.value==0||abs(datum.value)==0.5","value":[10,0]},"value":[2.5,20]}}},"x2":{"field":"x2"},"y2":{"field":"y2"},"strokeDash":{"field":"k","type":"nominal","scale":{"domain":["d","o"],"range":[[7,3.5],[1.5,2.6]]},"legend":null}}},
{"data":{"name":"b_J"},"mark":{"type":"circle","size":12,"color":"black","opacity":1},"encoding":{"x":{"field":"x","type":"quantitative","scale":{"domain":[-0.7,0.7],"nice":false,"zero":false},"axis":{"orient":"top","labels":false,"title":null,"values":[-0.6,-0.5,-0.4,-0.3,-0.2,-0.1,0,0.1,0.2,0.3,0.4,0.5,0.6],"tickDash":{"condition":{"test":"datum.value==0||abs(datum.value)==0.5","value":[10,0]},"value":[2.5,20]}}},"y":{"field":"y","type":"quantitative","scale":{"domain":[-0.7,0.7],"nice":false,"zero":false},"axis":{"orient":"right","labels":false,"title":null,"values":[-0.6,-0.5,-0.4,-0.3,-0.2,-0.1,0,0.1,0.2,0.3,0.4,0.5,0.6],"tickDash":{"condition":{"test":"datum.value==0||abs(datum.value)==0.5","value":[10,0]},"value":[2.5,20]}}}}}
],"resolve":{"axis":{"x":"independent","y":"independent"}}},
{"width":140,"height":141,"layer":[
{"data":{"name":"LB"},"mark":{"type":"rule","clip":true,"color":"#808080","strokeWidth":1.6},"encoding":{"x":{"field":"x","type":"quantitative","scale":{"domain":[-0.7,0.7],"nice":false,"zero":false},"axis":{"orient":"bottom","title":"lg(b\u1d63/b\u0305\u1d63)","values":[-0.6,-0.5,-0.4,-0.3,-0.2,-0.1,0,0.1,0.2,0.3,0.4,0.5,0.6],"labelExpr":"datum.value==0||abs(datum.value)==0.5 ? replace(format(datum.value,'.1f'),'\u2212','-') : ''","tickDash":{"condition":{"test":"datum.value==0||abs(datum.value)==0.5","value":[10,0]},"value":[2.5,20]}}},"y":{"field":"y","type":"quantitative","scale":{"domain":[-0.7,0.7],"nice":false,"zero":false},"axis":{"orient":"left","labels":false,"title":null,"values":[-0.6,-0.5,-0.4,-0.3,-0.2,-0.1,0,0.1,0.2,0.3,0.4,0.5,0.6],"tickDash":{"condition":{"test":"datum.value==0||abs(datum.value)==0.5","value":[10,0]},"value":[2.5,20]}}},"x2":{"field":"x2"},"y2":{"field":"y2"},"strokeDash":{"field":"k","type":"nominal","scale":{"domain":["d","o"],"range":[[7,3.5],[1.5,2.6]]},"legend":null}}},
{"data":{"name":"b_H"},"mark":{"type":"circle","size":12,"color":"black","opacity":1},"encoding":{"x":{"field":"x","type":"quantitative","scale":{"domain":[-0.7,0.7],"nice":false,"zero":false},"axis":{"orient":"top","labels":false,"title":null,"values":[-0.6,-0.5,-0.4,-0.3,-0.2,-0.1,0,0.1,0.2,0.3,0.4,0.5,0.6],"tickDash":{"condition":{"test":"datum.value==0||abs(datum.value)==0.5","value":[10,0]},"value":[2.5,20]}}},"y":{"field":"y","type":"quantitative","scale":{"domain":[-0.7,0.7],"nice":false,"zero":false},"axis":{"orient":"right","labels":false,"title":null,"values":[-0.6,-0.5,-0.4,-0.3,-0.2,-0.1,0,0.1,0.2,0.3,0.4,0.5,0.6],"tickDash":{"condition":{"test":"datum.value==0||abs(datum.value)==0.5","value":[10,0]},"value":[2.5,20]}}}}}
],"resolve":{"axis":{"x":"independent","y":"independent"}}},
{"width":140,"height":141,"layer":[
{"data":{"name":"LB"},"mark":{"type":"rule","clip":true,"color":"#808080","strokeWidth":1.6},"encoding":{"x":{"field":"x","type":"quantitative","scale":{"domain":[-0.7,0.7],"nice":false,"zero":false},"axis":{"orient":"bottom","title":null,"values":[-0.6,-0.5,-0.4,-0.3,-0.2,-0.1,0,0.1,0.2,0.3,0.4,0.5,0.6],"labelExpr":"datum.value==0||abs(datum.value)==0.5 ? replace(format(datum.value,'.1f'),'\u2212','-') : ''","tickDash":{"condition":{"test":"datum.value==0||abs(datum.value)==0.5","value":[10,0]},"value":[2.5,20]}}},"y":{"field":"y","type":"quantitative","scale":{"domain":[-0.7,0.7],"nice":false,"zero":false},"axis":{"orient":"left","labels":false,"title":null,"values":[-0.6,-0.5,-0.4,-0.3,-0.2,-0.1,0,0.1,0.2,0.3,0.4,0.5,0.6],"tickDash":{"condition":{"test":"datum.value==0||abs(datum.value)==0.5","value":[10,0]},"value":[2.5,20]}}},"x2":{"field":"x2"},"y2":{"field":"y2"},"strokeDash":{"field":"k","type":"nominal","scale":{"domain":["d","o"],"range":[[7,3.5],[1.5,2.6]]},"legend":null}}},
{"data":{"name":"b_K"},"mark":{"type":"circle","size":12,"color":"black","opacity":1},"encoding":{"x":{"field":"x","type":"quantitative","scale":{"domain":[-0.7,0.7],"nice":false,"zero":false},"axis":{"orient":"top","labels":false,"title":null,"values":[-0.6,-0.5,-0.4,-0.3,-0.2,-0.1,0,0.1,0.2,0.3,0.4,0.5,0.6],"tickDash":{"condition":{"test":"datum.value==0||abs(datum.value)==0.5","value":[10,0]},"value":[2.5,20]}}},"y":{"field":"y","type":"quantitative","scale":{"domain":[-0.7,0.7],"nice":false,"zero":false},"axis":{"orient":"right","labels":false,"title":null,"values":[-0.6,-0.5,-0.4,-0.3,-0.2,-0.1,0,0.1,0.2,0.3,0.4,0.5,0.6],"tickDash":{"condition":{"test":"datum.value==0||abs(datum.value)==0.5","value":[10,0]},"value":[2.5,20]}}}}}
],"resolve":{"axis":{"x":"independent","y":"independent"}}}
],"spacing":7},
{"hconcat":[
{"width":140,"height":141,"layer":[
{"data":{"name":"QA"},"mark":{"type":"rule","clip":true,"color":"#808080","strokeWidth":1.6},"encoding":{"x":{"field":"x","type":"quantitative","scale":{"domain":[-0.32,0.32],"nice":false,"zero":false},"axis":{"orient":"bottom","title":"lg((b/a)\u1d63/(\u0305b\u0305/\u0305a\u0305)\u0305\u1d63)","values":[-0.3,-0.25,-0.2,-0.15,-0.1,-0.05,0,0.05,0.1,0.15,0.2,0.25,0.3],"labelExpr":"datum.value==0||abs(datum.value)==0.2 ? replace(format(datum.value,'.1f'),'\u2212','-') : ''","tickDash":{"condition":{"test":"datum.value==0||abs(datum.value)==0.2","value":[10,0]},"value":[2.5,20]}}},"y":{"field":"y","type":"quantitative","scale":{"domain":[-0.32,0.32],"nice":false,"zero":false},"axis":{"orient":"left","title":"lg((b/a)/(\u0305b\u0305/\u0305a\u0305)\u0305\u1d63)","values":[-0.3,-0.25,-0.2,-0.15,-0.1,-0.05,0,0.05,0.1,0.15,0.2,0.25,0.3],"labelExpr":"datum.value==0||abs(datum.value)==0.2 ? format(datum.value,'.1f') : ''","tickDash":{"condition":{"test":"datum.value==0||abs(datum.value)==0.2","value":[10,0]},"value":[2.5,20]}}},"x2":{"field":"x2"},"y2":{"field":"y2"},"strokeDash":{"field":"k","type":"nominal","scale":{"domain":["d","o"],"range":[[7,3.5],[1.5,2.6]]},"legend":null}}},
{"data":{"name":"q_g"},"mark":{"type":"circle","size":12,"color":"black","opacity":1},"encoding":{"x":{"field":"x","type":"quantitative","scale":{"domain":[-0.32,0.32],"nice":false,"zero":false},"axis":{"orient":"top","labels":false,"title":null,"values":[-0.3,-0.25,-0.2,-0.15,-0.1,-0.05,0,0.05,0.1,0.15,0.2,0.25,0.3],"tickDash":{"condition":{"test":"datum.value==0||abs(datum.value)==0.2","value":[10,0]},"value":[2.5,20]}}},"y":{"field":"y","type":"quantitative","scale":{"domain":[-0.32,0.32],"nice":false,"zero":false},"axis":{"orient":"right","labels":false,"title":null,"values":[-0.3,-0.25,-0.2,-0.15,-0.1,-0.05,0,0.05,0.1,0.15,0.2,0.25,0.3],"tickDash":{"condition":{"test":"datum.value==0||abs(datum.value)==0.2","value":[10,0]},"value":[2.5,20]}}}}}
],"resolve":{"axis":{"x":"independent","y":"independent"}}},
{"width":140,"height":141,"layer":[
{"data":{"name":"QA"},"mark":{"type":"rule","clip":true,"color":"#808080","strokeWidth":1.6},"encoding":{"x":{"field":"x","type":"quantitative","scale":{"domain":[-0.32,0.32],"nice":false,"zero":false},"axis":{"orient":"bottom","title":null,"values":[-0.3,-0.25,-0.2,-0.15,-0.1,-0.05,0,0.05,0.1,0.15,0.2,0.25,0.3],"labelExpr":"datum.value==0||abs(datum.value)==0.2 ? replace(format(datum.value,'.1f'),'\u2212','-') : ''","tickDash":{"condition":{"test":"datum.value==0||abs(datum.value)==0.2","value":[10,0]},"value":[2.5,20]}}},"y":{"field":"y","type":"quantitative","scale":{"domain":[-0.32,0.32],"nice":false,"zero":false},"axis":{"orient":"left","labels":false,"title":null,"values":[-0.3,-0.25,-0.2,-0.15,-0.1,-0.05,0,0.05,0.1,0.15,0.2,0.25,0.3],"tickDash":{"condition":{"test":"datum.value==0||abs(datum.value)==0.2","value":[10,0]},"value":[2.5,20]}}},"x2":{"field":"x2"},"y2":{"field":"y2"},"strokeDash":{"field":"k","type":"nominal","scale":{"domain":["d","o"],"range":[[7,3.5],[1.5,2.6]]},"legend":null}}},
{"data":{"name":"q_i"},"mark":{"type":"circle","size":12,"color":"black","opacity":1},"encoding":{"x":{"field":"x","type":"quantitative","scale":{"domain":[-0.32,0.32],"nice":false,"zero":false},"axis":{"orient":"top","labels":false,"title":null,"values":[-0.3,-0.25,-0.2,-0.15,-0.1,-0.05,0,0.05,0.1,0.15,0.2,0.25,0.3],"tickDash":{"condition":{"test":"datum.value==0||abs(datum.value)==0.2","value":[10,0]},"value":[2.5,20]}}},"y":{"field":"y","type":"quantitative","scale":{"domain":[-0.32,0.32],"nice":false,"zero":false},"axis":{"orient":"right","labels":false,"title":null,"values":[-0.3,-0.25,-0.2,-0.15,-0.1,-0.05,0,0.05,0.1,0.15,0.2,0.25,0.3],"tickDash":{"condition":{"test":"datum.value==0||abs(datum.value)==0.2","value":[10,0]},"value":[2.5,20]}}}}}
],"resolve":{"axis":{"x":"independent","y":"independent"}}},
{"width":140,"height":141,"layer":[
{"data":{"name":"QB"},"mark":{"type":"rule","clip":true,"color":"#808080","strokeWidth":1.6},"encoding":{"x":{"field":"x","type":"quantitative","scale":{"domain":[-0.32,0.32],"nice":false,"zero":false},"axis":{"orient":"bottom","title":"lg((b/a)\u1d63/(\u0305b\u0305/\u0305a\u0305)\u0305\u1d63)","values":[-0.3,-0.25,-0.2,-0.15,-0.1,-0.05,0,0.05,0.1,0.15,0.2,0.25,0.3],"labelExpr":"datum.value==0||abs(datum.value)==0.2 ? replace(format(datum.value,'.1f'),'\u2212','-') : ''","tickDash":{"condition":{"test":"datum.value==0||abs(datum.value)==0.2","value":[10,0]},"value":[2.5,20]}}},"y":{"field":"y","type":"quantitative","scale":{"domain":[-0.32,0.32],"nice":false,"zero":false},"axis":{"orient":"left","labels":false,"title":null,"values":[-0.3,-0.25,-0.2,-0.15,-0.1,-0.05,0,0.05,0.1,0.15,0.2,0.25,0.3],"tickDash":{"condition":{"test":"datum.value==0||abs(datum.value)==0.2","value":[10,0]},"value":[2.5,20]}}},"x2":{"field":"x2"},"y2":{"field":"y2"},"strokeDash":{"field":"k","type":"nominal","scale":{"domain":["d","o"],"range":[[7,3.5],[1.5,2.6]]},"legend":null}}},
{"data":{"name":"q_z"},"mark":{"type":"circle","size":12,"color":"black","opacity":1},"encoding":{"x":{"field":"x","type":"quantitative","scale":{"domain":[-0.32,0.32],"nice":false,"zero":false},"axis":{"orient":"top","labels":false,"title":null,"values":[-0.3,-0.25,-0.2,-0.15,-0.1,-0.05,0,0.05,0.1,0.15,0.2,0.25,0.3],"tickDash":{"condition":{"test":"datum.value==0||abs(datum.value)==0.2","value":[10,0]},"value":[2.5,20]}}},"y":{"field":"y","type":"quantitative","scale":{"domain":[-0.32,0.32],"nice":false,"zero":false},"axis":{"orient":"right","labels":false,"title":null,"values":[-0.3,-0.25,-0.2,-0.15,-0.1,-0.05,0,0.05,0.1,0.15,0.2,0.25,0.3],"tickDash":{"condition":{"test":"datum.value==0||abs(datum.value)==0.2","value":[10,0]},"value":[2.5,20]}}}}}
],"resolve":{"axis":{"x":"independent","y":"independent"}}},
{"width":140,"height":141,"layer":[
{"data":{"name":"QC"},"mark":{"type":"rule","clip":true,"color":"#808080","strokeWidth":1.6},"encoding":{"x":{"field":"x","type":"quantitative","scale":{"domain":[-0.32,0.32],"nice":false,"zero":false},"axis":{"orient":"bottom","title":null,"values":[-0.3,-0.25,-0.2,-0.15,-0.1,-0.05,0,0.05,0.1,0.15,0.2,0.25,0.3],"labelExpr":"datum.value==0||abs(datum.value)==0.2 ? replace(format(datum.value,'.1f'),'\u2212','-') : ''","tickDash":{"condition":{"test":"datum.value==0||abs(datum.value)==0.2","value":[10,0]},"value":[2.5,20]}}},"y":{"field":"y","type":"quantitative","scale":{"domain":[-0.32,0.32],"nice":false,"zero":false},"axis":{"orient":"left","labels":false,"title":null,"values":[-0.3,-0.25,-0.2,-0.15,-0.1,-0.05,0,0.05,0.1,0.15,0.2,0.25,0.3],"tickDash":{"condition":{"test":"datum.value==0||abs(datum.value)==0.2","value":[10,0]},"value":[2.5,20]}}},"x2":{"field":"x2"},"y2":{"field":"y2"},"strokeDash":{"field":"k","type":"nominal","scale":{"domain":["d","o"],"range":[[7,3.5],[1.5,2.6]]},"legend":null}}},
{"data":{"name":"q_J"},"mark":{"type":"circle","size":12,"color":"black","opacity":1},"encoding":{"x":{"field":"x","type":"quantitative","scale":{"domain":[-0.32,0.32],"nice":false,"zero":false},"axis":{"orient":"top","labels":false,"title":null,"values":[-0.3,-0.25,-0.2,-0.15,-0.1,-0.05,0,0.05,0.1,0.15,0.2,0.25,0.3],"tickDash":{"condition":{"test":"datum.value==0||abs(datum.value)==0.2","value":[10,0]},"value":[2.5,20]}}},"y":{"field":"y","type":"quantitative","scale":{"domain":[-0.32,0.32],"nice":false,"zero":false},"axis":{"orient":"right","labels":false,"title":null,"values":[-0.3,-0.25,-0.2,-0.15,-0.1,-0.05,0,0.05,0.1,0.15,0.2,0.25,0.3],"tickDash":{"condition":{"test":"datum.value==0||abs(datum.value)==0.2","value":[10,0]},"value":[2.5,20]}}}}}
],"resolve":{"axis":{"x":"independent","y":"independent"}}},
{"width":140,"height":141,"layer":[
{"data":{"name":"QC"},"mark":{"type":"rule","clip":true,"color":"#808080","strokeWidth":1.6},"encoding":{"x":{"field":"x","type":"quantitative","scale":{"domain":[-0.32,0.32],"nice":false,"zero":false},"axis":{"orient":"bottom","title":"lg((b/a)\u1d63/(\u0305b\u0305/\u0305a\u0305)\u0305\u1d63)","values":[-0.3,-0.25,-0.2,-0.15,-0.1,-0.05,0,0.05,0.1,0.15,0.2,0.25,0.3],"labelExpr":"datum.value==0||abs(datum.value)==0.2 ? replace(format(datum.value,'.1f'),'\u2212','-') : ''","tickDash":{"condition":{"test":"datum.value==0||abs(datum.value)==0.2","value":[10,0]},"value":[2.5,20]}}},"y":{"field":"y","type":"quantitative","scale":{"domain":[-0.32,0.32],"nice":false,"zero":false},"axis":{"orient":"left","labels":false,"title":null,"values":[-0.3,-0.25,-0.2,-0.15,-0.1,-0.05,0,0.05,0.1,0.15,0.2,0.25,0.3],"tickDash":{"condition":{"test":"datum.value==0||abs(datum.value)==0.2","value":[10,0]},"value":[2.5,20]}}},"x2":{"field":"x2"},"y2":{"field":"y2"},"strokeDash":{"field":"k","type":"nominal","scale":{"domain":["d","o"],"range":[[7,3.5],[1.5,2.6]]},"legend":null}}},
{"data":{"name":"q_H"},"mark":{"type":"circle","size":12,"color":"black","opacity":1},"encoding":{"x":{"field":"x","type":"quantitative","scale":{"domain":[-0.32,0.32],"nice":false,"zero":false},"axis":{"orient":"top","labels":false,"title":null,"values":[-0.3,-0.25,-0.2,-0.15,-0.1,-0.05,0,0.05,0.1,0.15,0.2,0.25,0.3],"tickDash":{"condition":{"test":"datum.value==0||abs(datum.value)==0.2","value":[10,0]},"value":[2.5,20]}}},"y":{"field":"y","type":"quantitative","scale":{"domain":[-0.32,0.32],"nice":false,"zero":false},"axis":{"orient":"right","labels":false,"title":null,"values":[-0.3,-0.25,-0.2,-0.15,-0.1,-0.05,0,0.05,0.1,0.15,0.2,0.25,0.3],"tickDash":{"condition":{"test":"datum.value==0||abs(datum.value)==0.2","value":[10,0]},"value":[2.5,20]}}}}}
],"resolve":{"axis":{"x":"independent","y":"independent"}}},
{"width":140,"height":141,"layer":[
{"data":{"name":"QC"},"mark":{"type":"rule","clip":true,"color":"#808080","strokeWidth":1.6},"encoding":{"x":{"field":"x","type":"quantitative","scale":{"domain":[-0.32,0.32],"nice":false,"zero":false},"axis":{"orient":"bottom","title":null,"values":[-0.3,-0.25,-0.2,-0.15,-0.1,-0.05,0,0.05,0.1,0.15,0.2,0.25,0.3],"labelExpr":"datum.value==0||abs(datum.value)==0.2 ? replace(format(datum.value,'.1f'),'\u2212','-') : ''","tickDash":{"condition":{"test":"datum.value==0||abs(datum.value)==0.2","value":[10,0]},"value":[2.5,20]}}},"y":{"field":"y","type":"quantitative","scale":{"domain":[-0.32,0.32],"nice":false,"zero":false},"axis":{"orient":"left","labels":false,"title":null,"values":[-0.3,-0.25,-0.2,-0.15,-0.1,-0.05,0,0.05,0.1,0.15,0.2,0.25,0.3],"tickDash":{"condition":{"test":"datum.value==0||abs(datum.value)==0.2","value":[10,0]},"value":[2.5,20]}}},"x2":{"field":"x2"},"y2":{"field":"y2"},"strokeDash":{"field":"k","type":"nominal","scale":{"domain":["d","o"],"range":[[7,3.5],[1.5,2.6]]},"legend":null}}},
{"data":{"name":"q_K"},"mark":{"type":"circle","size":12,"color":"black","opacity":1},"encoding":{"x":{"field":"x","type":"quantitative","scale":{"domain":[-0.32,0.32],"nice":false,"zero":false},"axis":{"orient":"top","labels":false,"title":null,"values":[-0.3,-0.25,-0.2,-0.15,-0.1,-0.05,0,0.05,0.1,0.15,0.2,0.25,0.3],"tickDash":{"condition":{"test":"datum.value==0||abs(datum.value)==0.2","value":[10,0]},"value":[2.5,20]}}},"y":{"field":"y","type":"quantitative","scale":{"domain":[-0.32,0.32],"nice":false,"zero":false},"axis":{"orient":"right","labels":false,"title":null,"values":[-0.3,-0.25,-0.2,-0.15,-0.1,-0.05,0,0.05,0.1,0.15,0.2,0.25,0.3],"tickDash":{"condition":{"test":"datum.value==0||abs(datum.value)==0.2","value":[10,0]},"value":[2.5,20]}}}}}
],"resolve":{"axis":{"x":"independent","y":"independent"}}}
],"spacing":7}
],
"spacing":9
}
